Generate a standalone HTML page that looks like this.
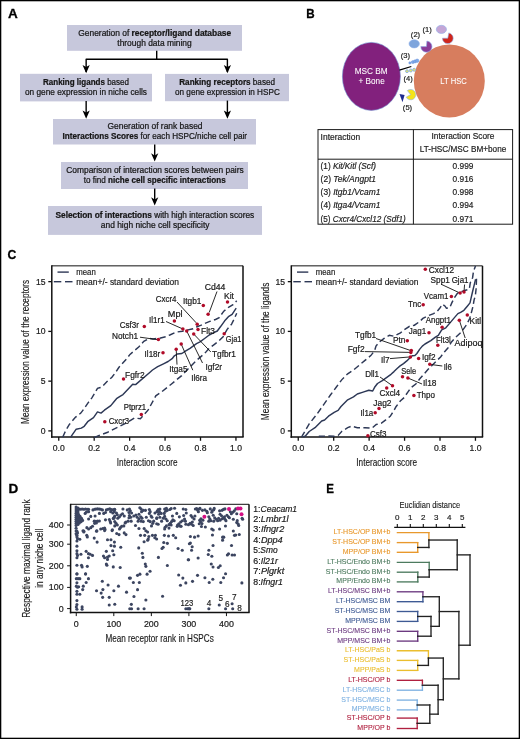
<!DOCTYPE html>
<html><head><meta charset="utf-8"><title>Figure</title>
<style>
html,body{margin:0;padding:0;background:#fff;}
body{width:520px;height:739px;overflow:hidden;}
svg{display:block;will-change:transform;font-family:"Liberation Sans", sans-serif;}
</style></head>
<body>
<svg width="520" height="739" viewBox="0 0 520 739">
<rect x="0" y="0" width="520" height="739" fill="#fff"/>
<text x="8.00" y="18.30" font-size="13.5" font-weight="bold" fill="#000" stroke="#000" stroke-width="0.3">A</text>
<text x="306.20" y="18.30" font-size="13.5" font-weight="bold" fill="#000" textLength="8.40" lengthAdjust="spacingAndGlyphs" stroke="#000" stroke-width="0.3">B</text>
<text x="7.50" y="259.40" font-size="13.5" font-weight="bold" fill="#000" textLength="8.80" lengthAdjust="spacingAndGlyphs" stroke="#000" stroke-width="0.3">C</text>
<text x="8.40" y="492.80" font-size="13.5" font-weight="bold" fill="#000" stroke="#000" stroke-width="0.3">D</text>
<text x="326.20" y="492.80" font-size="13.5" font-weight="bold" fill="#000" textLength="7.70" lengthAdjust="spacingAndGlyphs" stroke="#000" stroke-width="0.3">E</text>
<rect x="67.00" y="25.00" width="175.00" height="25.80" fill="#c7c8dc"/>
<rect x="20.00" y="73.80" width="132.00" height="27.60" fill="#c7c8dc"/>
<rect x="165.00" y="73.90" width="124.00" height="27.30" fill="#c7c8dc"/>
<rect x="53.00" y="119.00" width="203.00" height="25.50" fill="#c7c8dc"/>
<rect x="61.00" y="162.00" width="187.00" height="27.00" fill="#c7c8dc"/>
<rect x="48.00" y="206.00" width="214.00" height="28.90" fill="#c7c8dc"/>
<text x="78.25" y="36.30" font-size="8.4" fill="#161616" textLength="153.00" lengthAdjust="spacingAndGlyphs" stroke="#161616" stroke-width="0.22">Generation of <tspan font-weight="bold">receptor/ligand database</tspan></text>
<text x="117.30" y="45.50" font-size="8.4" fill="#161616" textLength="74.40" lengthAdjust="spacingAndGlyphs" stroke="#161616" stroke-width="0.22">through data mining</text>
<text x="43.00" y="85.10" font-size="8.4" fill="#161616" textLength="86.00" lengthAdjust="spacingAndGlyphs" stroke="#161616" stroke-width="0.22"><tspan font-weight="bold">Ranking ligands</tspan> based</text>
<text x="25.00" y="94.70" font-size="8.4" fill="#161616" textLength="122.00" lengthAdjust="spacingAndGlyphs" stroke="#161616" stroke-width="0.22">on gene expression in niche cells</text>
<text x="179.25" y="85.10" font-size="8.4" fill="#161616" textLength="95.75" lengthAdjust="spacingAndGlyphs" stroke="#161616" stroke-width="0.22"><tspan font-weight="bold">Ranking receptors</tspan> based</text>
<text x="175.00" y="94.70" font-size="8.4" fill="#161616" textLength="104.80" lengthAdjust="spacingAndGlyphs" stroke="#161616" stroke-width="0.22">on gene expression in HSPC</text>
<text x="107.50" y="129.30" font-size="8.4" fill="#161616" textLength="95.00" lengthAdjust="spacingAndGlyphs" stroke="#161616" stroke-width="0.22">Generation of rank based</text>
<text x="62.50" y="139.10" font-size="8.4" fill="#161616" textLength="184.50" lengthAdjust="spacingAndGlyphs" stroke="#161616" stroke-width="0.22"><tspan font-weight="bold">Interactions Scores</tspan> for each HSPC/niche cell pair</text>
<text x="66.25" y="173.10" font-size="8.4" fill="#161616" textLength="177.50" lengthAdjust="spacingAndGlyphs" stroke="#161616" stroke-width="0.22">Comparison of interaction scores between pairs</text>
<text x="83.75" y="182.90" font-size="8.4" fill="#161616" textLength="142.00" lengthAdjust="spacingAndGlyphs" stroke="#161616" stroke-width="0.22">to find <tspan font-weight="bold">niche cell specific interactions</tspan></text>
<text x="55.50" y="218.10" font-size="8.4" fill="#161616" textLength="198.75" lengthAdjust="spacingAndGlyphs" stroke="#161616" stroke-width="0.22"><tspan font-weight="bold">Selection of interactions</tspan> with high interaction scores</text>
<text x="100.75" y="227.90" font-size="8.4" fill="#161616" textLength="108.75" lengthAdjust="spacingAndGlyphs" stroke="#161616" stroke-width="0.22">and high niche cell specificity</text>
<polyline points="86.15,72.00 86.15,59.20 227.40,59.20 227.40,72.00" fill="none" stroke="#000" stroke-width="1.4" stroke-linejoin="round"/>
<line x1="156.70" y1="50.80" x2="156.70" y2="59.20" stroke="#000" stroke-width="1.4"/>
<polygon points="82.55,64.90 86.15,73.20 89.75,64.90 86.15,67.00" fill="#000"/>
<polygon points="223.80,64.90 227.40,73.20 231.00,64.90 227.40,67.00" fill="#000"/>
<line x1="86.15" y1="101.00" x2="86.15" y2="115.80" stroke="#000" stroke-width="1.4"/>
<polygon points="82.55,110.50 86.15,118.80 89.75,110.50 86.15,112.60" fill="#000"/>
<line x1="227.40" y1="100.60" x2="227.40" y2="115.80" stroke="#000" stroke-width="1.4"/>
<polygon points="223.80,110.50 227.40,118.80 231.00,110.50 227.40,112.60" fill="#000"/>
<line x1="154.70" y1="144.50" x2="154.70" y2="158.60" stroke="#000" stroke-width="1.4"/>
<polygon points="151.10,153.30 154.70,161.60 158.30,153.30 154.70,155.40" fill="#000"/>
<line x1="154.70" y1="188.50" x2="154.70" y2="202.60" stroke="#000" stroke-width="1.4"/>
<polygon points="151.10,197.30 154.70,205.60 158.30,197.30 154.70,199.40" fill="#000"/>
<ellipse cx="371.40" cy="76.40" rx="29.00" ry="34.00" fill="#82217d" stroke="#6f8fd0" stroke-width="0.6"/>
<ellipse cx="449.30" cy="81.00" rx="35.50" ry="36.50" fill="#d77d5e"/>
<text x="371.20" y="74.20" font-size="8.2" text-anchor="middle" fill="#fff" textLength="33.00" lengthAdjust="spacingAndGlyphs" stroke="#fff" stroke-width="0.06">MSC BM</text>
<text x="371.60" y="83.80" font-size="8.2" text-anchor="middle" fill="#fff" textLength="26.30" lengthAdjust="spacingAndGlyphs" stroke="#fff" stroke-width="0.06">+ Bone</text>
<text x="453.60" y="83.80" font-size="8.4" text-anchor="middle" fill="#fff" textLength="26.50" lengthAdjust="spacingAndGlyphs" stroke="#fff" stroke-width="0.06">LT HSC</text>
<ellipse cx="441.40" cy="29.40" rx="5.10" ry="4.10" fill="#c4a6d6" stroke="#8fb0ea" stroke-width="0.6"/>
<path d="M447.80,38.20 L448.74,32.88 A5.40,5.40 0 1 1 442.40,38.20 Z" fill="#d0261c" stroke="#8fb0ea" stroke-width="0.6"/>
<path d="M426.40,46.60 L426.89,41.02 A5.60,5.60 0 1 1 420.80,46.60 Z" fill="#8b3c98" stroke="#8fb0ea" stroke-width="0.6"/>
<path d="M410.60,94.60 L407.26,90.62 A5.20,5.20 0 1 1 406.10,97.20 Z" fill="#f4e41a" stroke="#8fb0ea" stroke-width="0.6"/>
<ellipse cx="414.20" cy="43.80" rx="5.20" ry="4.10" fill="#7ea5dc" stroke="#8fb0ea" stroke-width="0.6"/>
<circle cx="409.90" cy="62.90" r="1.15" fill="#7ea8e6" stroke="#6690dc" stroke-width="0.5"/>
<circle cx="412.80" cy="62.10" r="1.50" fill="#7ea8e6" stroke="#6690dc" stroke-width="0.5"/>
<circle cx="415.00" cy="61.40" r="1.55" fill="#7ea8e6" stroke="#6690dc" stroke-width="0.5"/>
<circle cx="417.20" cy="60.70" r="1.70" fill="#7ea8e6" stroke="#6690dc" stroke-width="0.5"/>
<circle cx="407.00" cy="71.20" r="1.45" fill="#dfe26e" stroke="#82aae8" stroke-width="0.8"/>
<circle cx="410.80" cy="70.50" r="1.50" fill="#dfe26e" stroke="#82aae8" stroke-width="0.8"/>
<circle cx="414.20" cy="69.80" r="1.50" fill="#dfe26e" stroke="#82aae8" stroke-width="0.8"/>
<line x1="399.40" y1="70.20" x2="411.30" y2="66.50" stroke="#000" stroke-width="1.3"/>
<polygon points="399.50,94.00 404.60,95.10 402.50,102.30" fill="#1d2b8e"/>
<text x="427.10" y="32.00" font-size="7.6" text-anchor="middle" fill="#222" stroke="#222" stroke-width="0.18">(1)</text>
<text x="415.50" y="37.30" font-size="7.6" text-anchor="middle" fill="#222" stroke="#222" stroke-width="0.18">(2)</text>
<text x="405.40" y="58.10" font-size="7.6" text-anchor="middle" fill="#222" stroke="#222" stroke-width="0.18">(3)</text>
<text x="408.20" y="80.90" font-size="7.6" text-anchor="middle" fill="#222" stroke="#222" stroke-width="0.18">(4)</text>
<text x="407.50" y="109.60" font-size="7.6" text-anchor="middle" fill="#222" stroke="#222" stroke-width="0.18">(5)</text>
<rect x="318.00" y="129.60" width="194.60" height="94.60" fill="none" stroke="#1a1a1a" stroke-width="1.0"/>
<line x1="413.40" y1="129.60" x2="413.40" y2="224.20" stroke="#1a1a1a" stroke-width="1.0"/>
<line x1="318.00" y1="159.20" x2="512.60" y2="159.20" stroke="#1a1a1a" stroke-width="1.0"/>
<text x="320.60" y="140.00" font-size="8.2" fill="#222" textLength="39.50" lengthAdjust="spacingAndGlyphs" stroke="#222" stroke-width="0.18">Interaction</text>
<text x="463.00" y="139.40" font-size="8.2" text-anchor="middle" fill="#222" textLength="63.00" lengthAdjust="spacingAndGlyphs" stroke="#222" stroke-width="0.18">Interaction Score</text>
<text x="463.00" y="152.30" font-size="8.2" text-anchor="middle" fill="#222" textLength="86.60" lengthAdjust="spacingAndGlyphs" stroke="#222" stroke-width="0.18">LT-HSC/MSC BM+bone</text>
<text x="320.60" y="169.40" font-size="8.2" fill="#222" textLength="55.40" lengthAdjust="spacingAndGlyphs" stroke="#222" stroke-width="0.18">(1) <tspan font-style="italic">Kit/Kitl (Scf)</tspan></text>
<text x="463.00" y="169.40" font-size="8.2" text-anchor="middle" fill="#222" textLength="20.80" lengthAdjust="spacingAndGlyphs" stroke="#222" stroke-width="0.18">0.999</text>
<text x="320.60" y="182.43" font-size="8.2" fill="#222" textLength="55.40" lengthAdjust="spacingAndGlyphs" stroke="#222" stroke-width="0.18">(2) <tspan font-style="italic">Tek/Angpt1</tspan></text>
<text x="463.00" y="182.43" font-size="8.2" text-anchor="middle" fill="#222" textLength="20.80" lengthAdjust="spacingAndGlyphs" stroke="#222" stroke-width="0.18">0.916</text>
<text x="320.60" y="195.46" font-size="8.2" fill="#222" textLength="59.80" lengthAdjust="spacingAndGlyphs" stroke="#222" stroke-width="0.18">(3) <tspan font-style="italic">Itgb1/Vcam1</tspan></text>
<text x="463.00" y="195.46" font-size="8.2" text-anchor="middle" fill="#222" textLength="20.80" lengthAdjust="spacingAndGlyphs" stroke="#222" stroke-width="0.18">0.998</text>
<text x="320.60" y="208.49" font-size="8.2" fill="#222" textLength="59.80" lengthAdjust="spacingAndGlyphs" stroke="#222" stroke-width="0.18">(4) <tspan font-style="italic">Itga4/Vcam1</tspan></text>
<text x="463.00" y="208.49" font-size="8.2" text-anchor="middle" fill="#222" textLength="20.80" lengthAdjust="spacingAndGlyphs" stroke="#222" stroke-width="0.18">0.994</text>
<text x="320.60" y="221.52" font-size="8.2" fill="#222" textLength="85.10" lengthAdjust="spacingAndGlyphs" stroke="#222" stroke-width="0.18">(5) <tspan font-style="italic">Cxcr4/Cxcl12 (Sdf1)</tspan></text>
<text x="463.00" y="221.52" font-size="8.2" text-anchor="middle" fill="#222" textLength="20.80" lengthAdjust="spacingAndGlyphs" stroke="#222" stroke-width="0.18">0.971</text>
<line x1="51.80" y1="265.85" x2="243.00" y2="265.85" stroke="#111" stroke-width="1.0"/>
<line x1="243.00" y1="265.85" x2="243.00" y2="437.00" stroke="#111" stroke-width="1.5"/>
<line x1="51.80" y1="265.35" x2="51.80" y2="437.75" stroke="#111" stroke-width="1.5"/>
<line x1="51.05" y1="437.00" x2="243.65" y2="437.00" stroke="#111" stroke-width="1.5"/>
<line x1="48.30" y1="430.90" x2="51.80" y2="430.90" stroke="#111" stroke-width="1.3"/>
<text x="45.60" y="433.95" font-size="8.6" text-anchor="end" fill="#1a1a1a" stroke="#1a1a1a" stroke-width="0.2">0</text>
<line x1="48.30" y1="381.15" x2="51.80" y2="381.15" stroke="#111" stroke-width="1.3"/>
<text x="45.60" y="384.20" font-size="8.6" text-anchor="end" fill="#1a1a1a" stroke="#1a1a1a" stroke-width="0.2">5</text>
<line x1="48.30" y1="331.40" x2="51.80" y2="331.40" stroke="#111" stroke-width="1.3"/>
<text x="45.60" y="334.45" font-size="8.6" text-anchor="end" fill="#1a1a1a" stroke="#1a1a1a" stroke-width="0.2">10</text>
<line x1="48.30" y1="281.65" x2="51.80" y2="281.65" stroke="#111" stroke-width="1.3"/>
<text x="45.60" y="284.70" font-size="8.6" text-anchor="end" fill="#1a1a1a" stroke="#1a1a1a" stroke-width="0.2">15</text>
<line x1="58.75" y1="437.00" x2="58.75" y2="440.80" stroke="#111" stroke-width="1.3"/>
<text x="58.75" y="451.20" font-size="8.6" text-anchor="middle" fill="#1a1a1a" stroke="#1a1a1a" stroke-width="0.2">0.0</text>
<line x1="94.19" y1="437.00" x2="94.19" y2="440.80" stroke="#111" stroke-width="1.3"/>
<text x="94.19" y="451.20" font-size="8.6" text-anchor="middle" fill="#1a1a1a" stroke="#1a1a1a" stroke-width="0.2">0.2</text>
<line x1="129.63" y1="437.00" x2="129.63" y2="440.80" stroke="#111" stroke-width="1.3"/>
<text x="129.63" y="451.20" font-size="8.6" text-anchor="middle" fill="#1a1a1a" stroke="#1a1a1a" stroke-width="0.2">0.4</text>
<line x1="165.07" y1="437.00" x2="165.07" y2="440.80" stroke="#111" stroke-width="1.3"/>
<text x="165.07" y="451.20" font-size="8.6" text-anchor="middle" fill="#1a1a1a" stroke="#1a1a1a" stroke-width="0.2">0.6</text>
<line x1="200.51" y1="437.00" x2="200.51" y2="440.80" stroke="#111" stroke-width="1.3"/>
<text x="200.51" y="451.20" font-size="8.6" text-anchor="middle" fill="#1a1a1a" stroke="#1a1a1a" stroke-width="0.2">0.8</text>
<line x1="235.95" y1="437.00" x2="235.95" y2="440.80" stroke="#111" stroke-width="1.3"/>
<text x="235.95" y="451.20" font-size="8.6" text-anchor="middle" fill="#1a1a1a" stroke="#1a1a1a" stroke-width="0.2">1.0</text>
<text x="147.20" y="466.00" font-size="10.7" text-anchor="middle" fill="#1a1a1a" textLength="60.75" lengthAdjust="spacingAndGlyphs" stroke="#1a1a1a" stroke-width="0.15">Interaction score</text>
<text transform="translate(29.20,351.85) rotate(-90)" x="0" y="0" font-size="11.2" text-anchor="middle" fill="#1a1a1a" stroke="#1a1a1a" stroke-width="0.15" textLength="144.10" lengthAdjust="spacingAndGlyphs">Mean expression value of the receptors</text>
<line x1="57.50" y1="272.10" x2="68.80" y2="272.10" stroke="#2d3856" stroke-width="1.4"/>
<line x1="53.80" y1="281.70" x2="61.30" y2="281.70" stroke="#2d3856" stroke-width="1.4"/>
<line x1="65.00" y1="281.70" x2="72.50" y2="281.70" stroke="#2d3856" stroke-width="1.4"/>
<text x="76.30" y="274.90" font-size="8.2" fill="#222" textLength="19.50" lengthAdjust="spacingAndGlyphs" stroke="#222" stroke-width="0.18">mean</text>
<text x="76.30" y="284.60" font-size="8.2" fill="#222" textLength="102.70" lengthAdjust="spacingAndGlyphs" stroke="#222" stroke-width="0.18">mean+/- standard deviation</text>
<line x1="291.30" y1="265.85" x2="482.50" y2="265.85" stroke="#111" stroke-width="1.0"/>
<line x1="482.50" y1="265.85" x2="482.50" y2="437.00" stroke="#111" stroke-width="1.5"/>
<line x1="291.30" y1="265.35" x2="291.30" y2="437.75" stroke="#111" stroke-width="1.5"/>
<line x1="290.55" y1="437.00" x2="483.15" y2="437.00" stroke="#111" stroke-width="1.5"/>
<line x1="287.80" y1="430.90" x2="291.30" y2="430.90" stroke="#111" stroke-width="1.3"/>
<text x="285.10" y="433.95" font-size="8.6" text-anchor="end" fill="#1a1a1a" stroke="#1a1a1a" stroke-width="0.2">0</text>
<line x1="287.80" y1="381.15" x2="291.30" y2="381.15" stroke="#111" stroke-width="1.3"/>
<text x="285.10" y="384.20" font-size="8.6" text-anchor="end" fill="#1a1a1a" stroke="#1a1a1a" stroke-width="0.2">5</text>
<line x1="287.80" y1="331.40" x2="291.30" y2="331.40" stroke="#111" stroke-width="1.3"/>
<text x="285.10" y="334.45" font-size="8.6" text-anchor="end" fill="#1a1a1a" stroke="#1a1a1a" stroke-width="0.2">10</text>
<line x1="287.80" y1="281.65" x2="291.30" y2="281.65" stroke="#111" stroke-width="1.3"/>
<text x="285.10" y="284.70" font-size="8.6" text-anchor="end" fill="#1a1a1a" stroke="#1a1a1a" stroke-width="0.2">15</text>
<line x1="298.25" y1="437.00" x2="298.25" y2="440.80" stroke="#111" stroke-width="1.3"/>
<text x="298.25" y="451.20" font-size="8.6" text-anchor="middle" fill="#1a1a1a" stroke="#1a1a1a" stroke-width="0.2">0.0</text>
<line x1="333.69" y1="437.00" x2="333.69" y2="440.80" stroke="#111" stroke-width="1.3"/>
<text x="333.69" y="451.20" font-size="8.6" text-anchor="middle" fill="#1a1a1a" stroke="#1a1a1a" stroke-width="0.2">0.2</text>
<line x1="369.13" y1="437.00" x2="369.13" y2="440.80" stroke="#111" stroke-width="1.3"/>
<text x="369.13" y="451.20" font-size="8.6" text-anchor="middle" fill="#1a1a1a" stroke="#1a1a1a" stroke-width="0.2">0.4</text>
<line x1="404.57" y1="437.00" x2="404.57" y2="440.80" stroke="#111" stroke-width="1.3"/>
<text x="404.57" y="451.20" font-size="8.6" text-anchor="middle" fill="#1a1a1a" stroke="#1a1a1a" stroke-width="0.2">0.6</text>
<line x1="440.01" y1="437.00" x2="440.01" y2="440.80" stroke="#111" stroke-width="1.3"/>
<text x="440.01" y="451.20" font-size="8.6" text-anchor="middle" fill="#1a1a1a" stroke="#1a1a1a" stroke-width="0.2">0.8</text>
<line x1="475.45" y1="437.00" x2="475.45" y2="440.80" stroke="#111" stroke-width="1.3"/>
<text x="475.45" y="451.20" font-size="8.6" text-anchor="middle" fill="#1a1a1a" stroke="#1a1a1a" stroke-width="0.2">1.0</text>
<text x="386.70" y="466.00" font-size="10.7" text-anchor="middle" fill="#1a1a1a" textLength="60.75" lengthAdjust="spacingAndGlyphs" stroke="#1a1a1a" stroke-width="0.15">Interaction score</text>
<text transform="translate(268.90,351.40) rotate(-90)" x="0" y="0" font-size="11.2" text-anchor="middle" fill="#1a1a1a" stroke="#1a1a1a" stroke-width="0.15" textLength="137.60" lengthAdjust="spacingAndGlyphs">Mean expression value of the ligands</text>
<line x1="297.00" y1="272.10" x2="308.30" y2="272.10" stroke="#2d3856" stroke-width="1.4"/>
<line x1="293.30" y1="281.70" x2="300.80" y2="281.70" stroke="#2d3856" stroke-width="1.4"/>
<line x1="304.50" y1="281.70" x2="312.00" y2="281.70" stroke="#2d3856" stroke-width="1.4"/>
<text x="315.80" y="274.90" font-size="8.2" fill="#222" textLength="19.50" lengthAdjust="spacingAndGlyphs" stroke="#222" stroke-width="0.18">mean</text>
<text x="315.80" y="284.60" font-size="8.2" fill="#222" textLength="102.70" lengthAdjust="spacingAndGlyphs" stroke="#222" stroke-width="0.18">mean+/- standard deviation</text>
<polyline points="70.60,437.20 71.00,436.70 76.20,429.20 81.30,428.10 84.20,426.30 87.70,421.70 93.50,417.70 97.50,411.90 101.00,413.10 104.40,410.20 110.80,405.60 114.20,401.50 116.50,398.70 120.00,396.30 123.00,394.60 132.70,384.20 135.60,384.60 150.00,372.20 152.50,370.00 157.70,366.70 163.50,363.80 168.10,361.50 172.10,358.70 174.40,355.80 177.30,354.00 181.90,353.50 185.40,351.20 190.00,348.30 196.50,343.70 200.00,341.90 204.60,338.50 209.20,335.00 213.80,332.70 217.30,331.00 220.80,326.30 224.70,320.80 228.40,316.70 232.10,314.40 233.90,311.60 236.20,308.20" fill="none" stroke="#2d3856" stroke-width="1.45" stroke-linejoin="round"/>
<polyline points="62.60,437.20 62.90,436.70 65.80,430.40 69.20,424.60 72.10,421.20 75.60,417.10 80.80,413.10 84.20,408.50 87.70,403.30 91.70,398.10 95.20,392.30 97.50,388.30 100.40,387.50 102.70,386.00 107.30,381.30 111.90,377.30 115.40,372.70 118.80,367.50 126.90,358.50 130.00,354.40 134.60,350.50 138.70,347.10 143.80,341.30 149.00,338.40 153.00,338.90 159.40,338.30 165.80,336.70 169.80,335.00 176.20,332.10 182.50,331.20 193.10,328.70 196.50,327.00 201.20,325.20 204.60,323.50 210.40,321.20 215.50,319.50 219.20,317.60 223.80,311.20 228.90,307.00 233.00,304.70 236.70,300.80" fill="none" stroke="#2d3856" stroke-width="1.45" stroke-dasharray="6.2 3.4" stroke-linecap="butt"/>
<polyline points="94.20,437.60 98.00,435.80 107.70,432.30 119.20,426.50 126.90,422.70 134.60,417.90 140.40,418.80 148.00,410.20 155.80,395.80 161.50,392.00 171.20,384.20 181.70,375.60 192.50,364.40 196.50,360.40 204.60,353.50 209.20,348.30 213.80,344.80 218.50,341.30 223.10,336.70 227.00,329.60 231.60,324.10 234.40,318.50 236.70,313.30" fill="none" stroke="#2d3856" stroke-width="1.45" stroke-dasharray="6.2 3.4" stroke-linecap="butt"/>
<polyline points="303.20,437.20 305.40,436.00 309.20,431.50 315.00,427.70 321.70,421.00 324.60,420.00 328.50,416.20 334.20,412.30 338.10,410.40 341.00,406.50 347.70,399.80 353.50,396.90 357.30,394.00 363.10,392.10 368.80,390.20 372.70,391.00 374.60,387.30 377.50,383.50 382.30,380.60 391.00,374.30 394.00,371.60 397.40,368.30 400.10,365.90 403.50,363.60 406.80,360.90 409.50,358.20 412.20,355.80 414.90,355.50 416.90,353.50 419.60,349.40 422.30,346.10 425.00,344.00 430.80,340.60 435.40,337.10 438.30,335.40 441.70,329.80 445.80,327.80 449.80,323.10 453.80,318.40 457.90,313.60 460.60,312.30 463.90,310.30 467.30,306.20 470.00,302.90 470.90,298.80 472.60,291.50 474.40,284.10 475.60,279.30" fill="none" stroke="#2d3856" stroke-width="1.45" stroke-linejoin="round"/>
<polyline points="301.60,437.20 302.50,435.40 309.20,423.80 316.90,414.20 323.70,404.60 330.40,395.00 336.20,387.30 341.90,379.60 347.70,373.80 353.50,370.00 359.20,365.20 365.00,360.40 370.80,355.60 374.60,350.80 376.00,346.00 379.80,341.70 384.10,338.40 389.40,335.20 393.80,336.20 400.50,332.90 404.30,329.70 409.60,326.30 414.40,325.20 419.70,321.50 422.90,318.40 426.90,316.30 433.60,313.60 437.00,311.60 439.70,308.30 442.40,304.20 445.10,306.20 446.40,308.30 449.80,307.60 451.80,302.90 454.50,297.50 457.20,293.50 459.50,292.20 464.70,290.50 469.30,289.20 470.30,282.70 472.60,277.70 473.50,271.20 475.50,266.00" fill="none" stroke="#2d3856" stroke-width="1.45" stroke-dasharray="6.2 3.4" stroke-linecap="butt"/>
<polyline points="318.80,436.30 328.50,436.00 334.20,436.30 338.10,435.40 341.90,431.20 347.70,427.70 351.50,426.20 357.30,427.70 365.00,427.70 371.90,428.20 376.25,424.50 381.50,423.10 385.40,420.20 390.20,416.30 393.60,411.10 396.00,406.70 400.30,401.00 404.10,397.60 408.00,391.80 411.20,387.50 415.80,384.00 419.80,378.80 423.80,374.20 427.90,369.60 431.90,365.60 436.00,361.50 440.60,356.90 444.60,351.70 448.10,347.70 451.50,341.90 455.60,337.30 461.30,332.10 466.60,324.60 469.80,318.20 471.60,311.70 473.00,306.20 474.10,299.80 475.30,296.10 476.20,288.00 476.50,278.50" fill="none" stroke="#2d3856" stroke-width="1.45" stroke-dasharray="6.2 3.4" stroke-linecap="butt"/>
<line x1="177.00" y1="302.00" x2="196.20" y2="322.80" stroke="#111" stroke-width="0.9"/>
<line x1="217.00" y1="291.50" x2="209.20" y2="312.50" stroke="#111" stroke-width="0.9"/>
<line x1="140.00" y1="337.20" x2="157.00" y2="339.60" stroke="#111" stroke-width="0.9"/>
<line x1="166.00" y1="321.50" x2="182.00" y2="328.60" stroke="#111" stroke-width="0.9"/>
<line x1="186.70" y1="331.00" x2="202.50" y2="363.00" stroke="#111" stroke-width="0.9"/>
<line x1="193.70" y1="334.00" x2="210.80" y2="352.00" stroke="#111" stroke-width="0.9"/>
<line x1="176.20" y1="349.40" x2="177.00" y2="364.60" stroke="#111" stroke-width="0.9"/>
<line x1="181.20" y1="344.10" x2="192.80" y2="370.20" stroke="#111" stroke-width="0.9"/>
<line x1="441.00" y1="284.20" x2="459.00" y2="292.60" stroke="#111" stroke-width="0.9"/>
<line x1="464.60" y1="284.50" x2="464.00" y2="291.50" stroke="#111" stroke-width="0.9"/>
<line x1="459.30" y1="320.20" x2="465.20" y2="338.00" stroke="#111" stroke-width="0.9"/>
<line x1="376.00" y1="338.50" x2="410.80" y2="350.60" stroke="#111" stroke-width="0.9"/>
<line x1="365.00" y1="351.60" x2="410.80" y2="352.40" stroke="#111" stroke-width="0.9"/>
<line x1="390.00" y1="358.60" x2="410.40" y2="356.90" stroke="#111" stroke-width="0.9"/>
<line x1="380.00" y1="377.00" x2="392.50" y2="385.80" stroke="#111" stroke-width="0.9"/>
<line x1="407.90" y1="378.00" x2="422.00" y2="384.00" stroke="#111" stroke-width="0.9"/>
<line x1="430.00" y1="364.40" x2="442.30" y2="366.00" stroke="#111" stroke-width="0.9"/>
<circle cx="197.20" cy="324.20" r="1.75" fill="#b00a28"/>
<circle cx="203.30" cy="305.60" r="1.75" fill="#b00a28"/>
<circle cx="208.10" cy="314.30" r="1.75" fill="#b00a28"/>
<circle cx="227.50" cy="302.00" r="1.75" fill="#b00a28"/>
<circle cx="174.40" cy="321.00" r="1.75" fill="#b00a28"/>
<circle cx="182.90" cy="329.10" r="1.75" fill="#b00a28"/>
<circle cx="144.30" cy="326.50" r="1.75" fill="#b00a28"/>
<circle cx="158.40" cy="339.50" r="1.75" fill="#b00a28"/>
<circle cx="198.00" cy="329.60" r="1.75" fill="#b00a28"/>
<circle cx="224.20" cy="333.70" r="1.75" fill="#b00a28"/>
<circle cx="163.00" cy="352.80" r="1.75" fill="#b00a28"/>
<circle cx="193.70" cy="333.90" r="1.75" fill="#b00a28"/>
<circle cx="176.20" cy="349.30" r="1.75" fill="#b00a28"/>
<circle cx="186.70" cy="331.00" r="1.75" fill="#b00a28"/>
<circle cx="181.20" cy="344.10" r="1.75" fill="#b00a28"/>
<circle cx="123.50" cy="379.00" r="1.75" fill="#b00a28"/>
<circle cx="141.30" cy="414.60" r="1.75" fill="#b00a28"/>
<circle cx="104.80" cy="421.70" r="1.75" fill="#b00a28"/>
<circle cx="425.30" cy="269.20" r="1.75" fill="#b00a28"/>
<circle cx="460.10" cy="293.00" r="1.75" fill="#b00a28"/>
<circle cx="464.00" cy="292.10" r="1.75" fill="#b00a28"/>
<circle cx="451.40" cy="296.50" r="1.75" fill="#b00a28"/>
<circle cx="423.20" cy="304.80" r="1.75" fill="#b00a28"/>
<circle cx="442.10" cy="327.30" r="1.75" fill="#b00a28"/>
<circle cx="467.30" cy="315.00" r="1.75" fill="#b00a28"/>
<circle cx="459.30" cy="320.20" r="1.75" fill="#b00a28"/>
<circle cx="429.00" cy="332.70" r="1.75" fill="#b00a28"/>
<circle cx="407.30" cy="340.80" r="1.75" fill="#b00a28"/>
<circle cx="411.30" cy="350.60" r="1.75" fill="#b00a28"/>
<circle cx="410.80" cy="352.60" r="1.75" fill="#b00a28"/>
<circle cx="410.40" cy="357.00" r="1.75" fill="#b00a28"/>
<circle cx="418.60" cy="358.50" r="1.75" fill="#b00a28"/>
<circle cx="437.80" cy="345.30" r="1.75" fill="#b00a28"/>
<circle cx="429.80" cy="364.20" r="1.75" fill="#b00a28"/>
<circle cx="402.50" cy="376.70" r="1.75" fill="#b00a28"/>
<circle cx="407.90" cy="378.00" r="1.75" fill="#b00a28"/>
<circle cx="392.50" cy="385.80" r="1.75" fill="#b00a28"/>
<circle cx="386.70" cy="388.10" r="1.75" fill="#b00a28"/>
<circle cx="413.90" cy="395.40" r="1.75" fill="#b00a28"/>
<circle cx="379.00" cy="408.50" r="1.75" fill="#b00a28"/>
<circle cx="375.20" cy="412.70" r="1.75" fill="#b00a28"/>
<circle cx="367.90" cy="435.80" r="1.75" fill="#b00a28"/>
<text x="155.80" y="302.22" font-size="8.4" fill="#1a1a1a" textLength="20.70" lengthAdjust="spacingAndGlyphs" stroke="#1a1a1a" stroke-width="0.2">Cxcr4</text>
<text x="183.00" y="304.02" font-size="8.4" fill="#1a1a1a" textLength="18.50" lengthAdjust="spacingAndGlyphs" stroke="#1a1a1a" stroke-width="0.2">Itgb1</text>
<text x="204.70" y="289.92" font-size="8.4" fill="#1a1a1a" textLength="20.70" lengthAdjust="spacingAndGlyphs" stroke="#1a1a1a" stroke-width="0.2">Cd44</text>
<text x="224.00" y="299.02" font-size="8.4" fill="#1a1a1a" textLength="10.00" lengthAdjust="spacingAndGlyphs" stroke="#1a1a1a" stroke-width="0.2">Kit</text>
<text x="167.80" y="317.32" font-size="8.4" fill="#1a1a1a" textLength="14.70" lengthAdjust="spacingAndGlyphs" stroke="#1a1a1a" stroke-width="0.2">Mpl</text>
<text x="149.00" y="322.72" font-size="8.4" fill="#1a1a1a" textLength="15.60" lengthAdjust="spacingAndGlyphs" stroke="#1a1a1a" stroke-width="0.2">Il1r1</text>
<text x="119.70" y="328.02" font-size="8.4" fill="#1a1a1a" textLength="19.20" lengthAdjust="spacingAndGlyphs" stroke="#1a1a1a" stroke-width="0.2">Csf3r</text>
<text x="112.00" y="339.02" font-size="8.4" fill="#1a1a1a" textLength="26.20" lengthAdjust="spacingAndGlyphs" stroke="#1a1a1a" stroke-width="0.2">Notch1</text>
<text x="201.00" y="333.52" font-size="8.4" fill="#1a1a1a" textLength="14.00" lengthAdjust="spacingAndGlyphs" stroke="#1a1a1a" stroke-width="0.2">Flt3</text>
<text x="225.80" y="341.82" font-size="8.4" fill="#1a1a1a" textLength="15.50" lengthAdjust="spacingAndGlyphs" stroke="#1a1a1a" stroke-width="0.2">Gja1</text>
<text x="144.60" y="356.82" font-size="8.4" fill="#1a1a1a" textLength="15.70" lengthAdjust="spacingAndGlyphs" stroke="#1a1a1a" stroke-width="0.2">Il18r</text>
<text x="212.00" y="357.42" font-size="8.4" fill="#1a1a1a" textLength="24.00" lengthAdjust="spacingAndGlyphs" stroke="#1a1a1a" stroke-width="0.2">Tgfbr1</text>
<text x="169.20" y="371.82" font-size="8.4" fill="#1a1a1a" textLength="18.30" lengthAdjust="spacingAndGlyphs" stroke="#1a1a1a" stroke-width="0.2">Itga5</text>
<text x="205.40" y="370.02" font-size="8.4" fill="#1a1a1a" textLength="16.70" lengthAdjust="spacingAndGlyphs" stroke="#1a1a1a" stroke-width="0.2">Igf2r</text>
<text x="191.30" y="380.52" font-size="8.4" fill="#1a1a1a" textLength="15.80" lengthAdjust="spacingAndGlyphs" stroke="#1a1a1a" stroke-width="0.2">Il6ra</text>
<text x="125.00" y="378.22" font-size="8.4" fill="#1a1a1a" textLength="19.60" lengthAdjust="spacingAndGlyphs" stroke="#1a1a1a" stroke-width="0.2">Fgfr2</text>
<text x="123.70" y="410.32" font-size="8.4" fill="#1a1a1a" textLength="22.50" lengthAdjust="spacingAndGlyphs" stroke="#1a1a1a" stroke-width="0.2">Ptprz1</text>
<text x="108.70" y="424.32" font-size="8.4" fill="#1a1a1a" textLength="20.50" lengthAdjust="spacingAndGlyphs" stroke="#1a1a1a" stroke-width="0.2">Cxcr3</text>
<text x="428.70" y="272.82" font-size="8.4" fill="#1a1a1a" textLength="25.50" lengthAdjust="spacingAndGlyphs" stroke="#1a1a1a" stroke-width="0.2">Cxcl12</text>
<text x="430.60" y="282.82" font-size="8.4" fill="#1a1a1a" textLength="19.20" lengthAdjust="spacingAndGlyphs" stroke="#1a1a1a" stroke-width="0.2">Spp1</text>
<text x="451.70" y="282.82" font-size="8.4" fill="#1a1a1a" textLength="16.80" lengthAdjust="spacingAndGlyphs" stroke="#1a1a1a" stroke-width="0.2">Gja1</text>
<text x="423.80" y="299.22" font-size="8.4" fill="#1a1a1a" textLength="24.70" lengthAdjust="spacingAndGlyphs" stroke="#1a1a1a" stroke-width="0.2">Vcam1</text>
<text x="407.90" y="306.82" font-size="8.4" fill="#1a1a1a" textLength="13.40" lengthAdjust="spacingAndGlyphs" stroke="#1a1a1a" stroke-width="0.2">Tnc</text>
<text x="425.80" y="322.82" font-size="8.4" fill="#1a1a1a" textLength="25.00" lengthAdjust="spacingAndGlyphs" stroke="#1a1a1a" stroke-width="0.2">Angpt1</text>
<text x="469.60" y="324.22" font-size="8.4" fill="#1a1a1a" textLength="11.60" lengthAdjust="spacingAndGlyphs" stroke="#1a1a1a" stroke-width="0.2">Kitl</text>
<text x="408.80" y="333.82" font-size="8.4" fill="#1a1a1a" textLength="17.40" lengthAdjust="spacingAndGlyphs" stroke="#1a1a1a" stroke-width="0.2">Jag1</text>
<text x="355.00" y="337.62" font-size="8.4" fill="#1a1a1a" textLength="21.20" lengthAdjust="spacingAndGlyphs" stroke="#1a1a1a" stroke-width="0.2">Tgfb1</text>
<text x="393.00" y="342.82" font-size="8.4" fill="#1a1a1a" textLength="12.40" lengthAdjust="spacingAndGlyphs" stroke="#1a1a1a" stroke-width="0.2">Ptn</text>
<text x="436.00" y="342.52" font-size="8.4" fill="#1a1a1a" textLength="14.80" lengthAdjust="spacingAndGlyphs" stroke="#1a1a1a" stroke-width="0.2">Flt3l</text>
<text x="454.60" y="345.92" font-size="8.4" fill="#1a1a1a" textLength="27.90" lengthAdjust="spacingAndGlyphs" stroke="#1a1a1a" stroke-width="0.2">Adipoq</text>
<text x="347.70" y="352.22" font-size="8.4" fill="#1a1a1a" textLength="16.90" lengthAdjust="spacingAndGlyphs" stroke="#1a1a1a" stroke-width="0.2">Fgf2</text>
<text x="421.90" y="359.92" font-size="8.4" fill="#1a1a1a" textLength="13.70" lengthAdjust="spacingAndGlyphs" stroke="#1a1a1a" stroke-width="0.2">Igf2</text>
<text x="381.00" y="362.82" font-size="8.4" fill="#1a1a1a" textLength="8.60" lengthAdjust="spacingAndGlyphs" stroke="#1a1a1a" stroke-width="0.2">Il7</text>
<text x="443.70" y="369.52" font-size="8.4" fill="#1a1a1a" textLength="8.20" lengthAdjust="spacingAndGlyphs" stroke="#1a1a1a" stroke-width="0.2">Il6</text>
<text x="401.20" y="373.82" font-size="8.4" fill="#1a1a1a" textLength="15.00" lengthAdjust="spacingAndGlyphs" stroke="#1a1a1a" stroke-width="0.2">Sele</text>
<text x="365.20" y="376.72" font-size="8.4" fill="#1a1a1a" textLength="13.80" lengthAdjust="spacingAndGlyphs" stroke="#1a1a1a" stroke-width="0.2">Dll1</text>
<text x="423.00" y="385.92" font-size="8.4" fill="#1a1a1a" textLength="13.50" lengthAdjust="spacingAndGlyphs" stroke="#1a1a1a" stroke-width="0.2">Il18</text>
<text x="379.60" y="395.92" font-size="8.4" fill="#1a1a1a" textLength="20.60" lengthAdjust="spacingAndGlyphs" stroke="#1a1a1a" stroke-width="0.2">Cxcl4</text>
<text x="416.70" y="397.82" font-size="8.4" fill="#1a1a1a" textLength="18.30" lengthAdjust="spacingAndGlyphs" stroke="#1a1a1a" stroke-width="0.2">Thpo</text>
<text x="373.30" y="405.72" font-size="8.4" fill="#1a1a1a" textLength="18.20" lengthAdjust="spacingAndGlyphs" stroke="#1a1a1a" stroke-width="0.2">Jag2</text>
<text x="360.40" y="416.32" font-size="8.4" fill="#1a1a1a" textLength="12.90" lengthAdjust="spacingAndGlyphs" stroke="#1a1a1a" stroke-width="0.2">Il1a</text>
<text x="370.00" y="436.82" font-size="8.4" fill="#1a1a1a" textLength="16.50" lengthAdjust="spacingAndGlyphs" stroke="#1a1a1a" stroke-width="0.2">Csf3</text>
<line x1="70.60" y1="504.30" x2="249.00" y2="504.30" stroke="#111" stroke-width="1.0"/>
<line x1="249.00" y1="504.30" x2="249.00" y2="612.60" stroke="#111" stroke-width="1.5"/>
<line x1="70.60" y1="503.80" x2="70.60" y2="613.35" stroke="#111" stroke-width="1.5"/>
<line x1="69.85" y1="612.60" x2="249.65" y2="612.60" stroke="#111" stroke-width="1.5"/>
<line x1="67.10" y1="608.60" x2="70.60" y2="608.60" stroke="#111" stroke-width="1.0"/>
<text x="63.60" y="611.60" font-size="8.9" text-anchor="end" fill="#1a1a1a" stroke="#1a1a1a" stroke-width="0.2">0</text>
<line x1="67.10" y1="587.40" x2="70.60" y2="587.40" stroke="#111" stroke-width="1.0"/>
<text x="63.60" y="590.40" font-size="8.9" text-anchor="end" fill="#1a1a1a" stroke="#1a1a1a" stroke-width="0.2">100</text>
<line x1="67.10" y1="565.80" x2="70.60" y2="565.80" stroke="#111" stroke-width="1.0"/>
<text x="63.60" y="568.80" font-size="8.9" text-anchor="end" fill="#1a1a1a" stroke="#1a1a1a" stroke-width="0.2">200</text>
<line x1="67.10" y1="544.20" x2="70.60" y2="544.20" stroke="#111" stroke-width="1.0"/>
<text x="63.60" y="547.20" font-size="8.9" text-anchor="end" fill="#1a1a1a" stroke="#1a1a1a" stroke-width="0.2">300</text>
<line x1="67.10" y1="525.00" x2="70.60" y2="525.00" stroke="#111" stroke-width="1.0"/>
<text x="63.60" y="528.00" font-size="8.9" text-anchor="end" fill="#1a1a1a" stroke="#1a1a1a" stroke-width="0.2">400</text>
<line x1="76.25" y1="612.60" x2="76.25" y2="616.10" stroke="#111" stroke-width="1.0"/>
<text x="76.25" y="627.00" font-size="8.9" text-anchor="middle" fill="#1a1a1a" stroke="#1a1a1a" stroke-width="0.2">0</text>
<line x1="113.80" y1="612.60" x2="113.80" y2="616.10" stroke="#111" stroke-width="1.0"/>
<text x="113.80" y="627.00" font-size="8.9" text-anchor="middle" fill="#1a1a1a" stroke="#1a1a1a" stroke-width="0.2">100</text>
<line x1="151.35" y1="612.60" x2="151.35" y2="616.10" stroke="#111" stroke-width="1.0"/>
<text x="151.35" y="627.00" font-size="8.9" text-anchor="middle" fill="#1a1a1a" stroke="#1a1a1a" stroke-width="0.2">200</text>
<line x1="188.90" y1="612.60" x2="188.90" y2="616.10" stroke="#111" stroke-width="1.0"/>
<text x="188.90" y="627.00" font-size="8.9" text-anchor="middle" fill="#1a1a1a" stroke="#1a1a1a" stroke-width="0.2">300</text>
<line x1="226.45" y1="612.60" x2="226.45" y2="616.10" stroke="#111" stroke-width="1.0"/>
<text x="226.45" y="627.00" font-size="8.9" text-anchor="middle" fill="#1a1a1a" stroke="#1a1a1a" stroke-width="0.2">400</text>
<text x="159.60" y="641.60" font-size="10.6" text-anchor="middle" fill="#1a1a1a" textLength="108.25" lengthAdjust="spacingAndGlyphs" stroke="#1a1a1a" stroke-width="0.15">Mean receptor rank in HSPCs</text>
<text transform="translate(30.30,558.50) rotate(-90)" x="0" y="0" font-size="11.0" text-anchor="middle" fill="#1a1a1a" stroke="#1a1a1a" stroke-width="0.15" textLength="118.45" lengthAdjust="spacingAndGlyphs">Respective maximal ligand rank</text>
<text transform="translate(42.90,558.30) rotate(-90)" x="0" y="0" font-size="11.0" text-anchor="middle" fill="#1a1a1a" stroke="#1a1a1a" stroke-width="0.15" textLength="59.15" lengthAdjust="spacingAndGlyphs">in any niche cell</text>
<circle cx="76.92" cy="508.36" r="1.55" fill="#3c4560"/>
<circle cx="78.65" cy="509.06" r="1.55" fill="#3c4560"/>
<circle cx="80.38" cy="509.23" r="1.55" fill="#3c4560"/>
<circle cx="82.11" cy="509.06" r="1.55" fill="#3c4560"/>
<circle cx="83.84" cy="509.23" r="1.55" fill="#3c4560"/>
<circle cx="85.57" cy="509.06" r="1.55" fill="#3c4560"/>
<circle cx="87.30" cy="509.23" r="1.55" fill="#3c4560"/>
<circle cx="88.60" cy="509.23" r="1.55" fill="#3c4560"/>
<circle cx="92.92" cy="509.92" r="1.55" fill="#3c4560"/>
<circle cx="94.65" cy="509.23" r="1.55" fill="#3c4560"/>
<circle cx="95.95" cy="509.06" r="1.55" fill="#3c4560"/>
<circle cx="97.68" cy="508.88" r="1.55" fill="#3c4560"/>
<circle cx="99.41" cy="509.06" r="1.55" fill="#3c4560"/>
<circle cx="100.71" cy="509.23" r="1.55" fill="#3c4560"/>
<circle cx="102.44" cy="509.92" r="1.55" fill="#3c4560"/>
<circle cx="106.33" cy="509.92" r="1.55" fill="#3c4560"/>
<circle cx="108.06" cy="509.23" r="1.55" fill="#3c4560"/>
<circle cx="109.79" cy="508.88" r="1.55" fill="#3c4560"/>
<circle cx="111.52" cy="509.49" r="1.55" fill="#3c4560"/>
<circle cx="113.25" cy="509.92" r="1.55" fill="#3c4560"/>
<circle cx="114.55" cy="509.23" r="1.55" fill="#3c4560"/>
<circle cx="85.14" cy="513.38" r="1.55" fill="#3c4560"/>
<circle cx="86.44" cy="512.08" r="1.55" fill="#3c4560"/>
<circle cx="88.60" cy="511.65" r="1.55" fill="#3c4560"/>
<circle cx="99.41" cy="513.38" r="1.55" fill="#3c4560"/>
<circle cx="103.74" cy="513.38" r="1.55" fill="#3c4560"/>
<circle cx="105.47" cy="512.52" r="1.55" fill="#3c4560"/>
<circle cx="110.66" cy="511.65" r="1.55" fill="#3c4560"/>
<circle cx="112.82" cy="512.95" r="1.55" fill="#3c4560"/>
<circle cx="88.60" cy="519.00" r="1.55" fill="#3c4560"/>
<circle cx="90.76" cy="516.41" r="1.55" fill="#3c4560"/>
<circle cx="95.09" cy="515.98" r="1.55" fill="#3c4560"/>
<circle cx="105.47" cy="519.87" r="1.55" fill="#3c4560"/>
<circle cx="109.36" cy="519.44" r="1.55" fill="#3c4560"/>
<circle cx="113.25" cy="518.57" r="1.55" fill="#3c4560"/>
<circle cx="114.12" cy="517.27" r="1.55" fill="#3c4560"/>
<circle cx="94.22" cy="521.17" r="1.55" fill="#3c4560"/>
<circle cx="95.95" cy="521.34" r="1.55" fill="#3c4560"/>
<circle cx="97.68" cy="521.17" r="1.55" fill="#3c4560"/>
<circle cx="99.41" cy="520.99" r="1.55" fill="#3c4560"/>
<circle cx="94.65" cy="523.33" r="1.55" fill="#3c4560"/>
<circle cx="96.38" cy="523.07" r="1.55" fill="#3c4560"/>
<circle cx="110.22" cy="521.60" r="1.55" fill="#3c4560"/>
<circle cx="110.66" cy="523.07" r="1.55" fill="#3c4560"/>
<circle cx="86.87" cy="527.65" r="1.55" fill="#3c4560"/>
<circle cx="88.60" cy="528.95" r="1.55" fill="#3c4560"/>
<circle cx="90.76" cy="527.65" r="1.55" fill="#3c4560"/>
<circle cx="92.49" cy="526.18" r="1.55" fill="#3c4560"/>
<circle cx="100.71" cy="528.95" r="1.55" fill="#3c4560"/>
<circle cx="102.87" cy="528.52" r="1.55" fill="#3c4560"/>
<circle cx="104.60" cy="528.09" r="1.55" fill="#3c4560"/>
<circle cx="105.03" cy="529.38" r="1.55" fill="#3c4560"/>
<circle cx="112.39" cy="529.82" r="1.55" fill="#3c4560"/>
<circle cx="82.98" cy="530.68" r="1.55" fill="#3c4560"/>
<circle cx="83.84" cy="531.98" r="1.55" fill="#3c4560"/>
<circle cx="96.82" cy="530.85" r="1.55" fill="#3c4560"/>
<circle cx="114.73" cy="509.49" r="1.55" fill="#3c4560"/>
<circle cx="114.30" cy="511.65" r="1.55" fill="#3c4560"/>
<circle cx="116.46" cy="512.95" r="1.55" fill="#3c4560"/>
<circle cx="117.33" cy="514.68" r="1.55" fill="#3c4560"/>
<circle cx="114.73" cy="515.98" r="1.55" fill="#3c4560"/>
<circle cx="113.87" cy="518.14" r="1.55" fill="#3c4560"/>
<circle cx="117.76" cy="518.14" r="1.55" fill="#3c4560"/>
<circle cx="122.95" cy="509.06" r="1.55" fill="#3c4560"/>
<circle cx="122.52" cy="513.81" r="1.55" fill="#3c4560"/>
<circle cx="124.25" cy="515.98" r="1.55" fill="#3c4560"/>
<circle cx="120.79" cy="515.11" r="1.55" fill="#3c4560"/>
<circle cx="119.49" cy="516.84" r="1.55" fill="#3c4560"/>
<circle cx="127.27" cy="509.92" r="1.55" fill="#3c4560"/>
<circle cx="129.44" cy="509.06" r="1.55" fill="#3c4560"/>
<circle cx="130.30" cy="510.79" r="1.55" fill="#3c4560"/>
<circle cx="129.00" cy="512.52" r="1.55" fill="#3c4560"/>
<circle cx="131.60" cy="512.95" r="1.55" fill="#3c4560"/>
<circle cx="129.44" cy="515.54" r="1.55" fill="#3c4560"/>
<circle cx="130.73" cy="517.27" r="1.55" fill="#3c4560"/>
<circle cx="129.00" cy="517.71" r="1.55" fill="#3c4560"/>
<circle cx="133.76" cy="515.98" r="1.55" fill="#3c4560"/>
<circle cx="135.92" cy="515.11" r="1.55" fill="#3c4560"/>
<circle cx="138.95" cy="514.25" r="1.55" fill="#3c4560"/>
<circle cx="137.22" cy="517.27" r="1.55" fill="#3c4560"/>
<circle cx="138.95" cy="519.00" r="1.55" fill="#3c4560"/>
<circle cx="140.68" cy="516.84" r="1.55" fill="#3c4560"/>
<circle cx="141.98" cy="518.14" r="1.55" fill="#3c4560"/>
<circle cx="138.09" cy="521.17" r="1.55" fill="#3c4560"/>
<circle cx="141.11" cy="521.17" r="1.55" fill="#3c4560"/>
<circle cx="143.28" cy="521.60" r="1.55" fill="#3c4560"/>
<circle cx="139.82" cy="507.76" r="1.55" fill="#3c4560"/>
<circle cx="141.11" cy="509.06" r="1.55" fill="#3c4560"/>
<circle cx="141.55" cy="511.65" r="1.55" fill="#3c4560"/>
<circle cx="143.28" cy="510.35" r="1.55" fill="#3c4560"/>
<circle cx="145.44" cy="510.35" r="1.55" fill="#3c4560"/>
<circle cx="146.30" cy="517.27" r="1.55" fill="#3c4560"/>
<circle cx="149.33" cy="509.49" r="1.55" fill="#3c4560"/>
<circle cx="150.20" cy="511.65" r="1.55" fill="#3c4560"/>
<circle cx="149.33" cy="513.38" r="1.55" fill="#3c4560"/>
<circle cx="151.06" cy="515.98" r="1.55" fill="#3c4560"/>
<circle cx="151.93" cy="517.27" r="1.55" fill="#3c4560"/>
<circle cx="154.96" cy="512.95" r="1.55" fill="#3c4560"/>
<circle cx="157.12" cy="511.22" r="1.55" fill="#3c4560"/>
<circle cx="156.69" cy="518.57" r="1.55" fill="#3c4560"/>
<circle cx="148.47" cy="520.73" r="1.55" fill="#3c4560"/>
<circle cx="150.20" cy="521.60" r="1.55" fill="#3c4560"/>
<circle cx="153.66" cy="521.17" r="1.55" fill="#3c4560"/>
<circle cx="152.79" cy="523.33" r="1.55" fill="#3c4560"/>
<circle cx="151.49" cy="525.92" r="1.55" fill="#3c4560"/>
<circle cx="156.69" cy="523.76" r="1.55" fill="#3c4560"/>
<circle cx="114.73" cy="521.60" r="1.55" fill="#3c4560"/>
<circle cx="116.03" cy="523.33" r="1.55" fill="#3c4560"/>
<circle cx="117.33" cy="525.06" r="1.55" fill="#3c4560"/>
<circle cx="114.73" cy="525.92" r="1.55" fill="#3c4560"/>
<circle cx="125.98" cy="522.03" r="1.55" fill="#3c4560"/>
<circle cx="128.14" cy="521.17" r="1.55" fill="#3c4560"/>
<circle cx="131.17" cy="521.17" r="1.55" fill="#3c4560"/>
<circle cx="125.11" cy="522.90" r="1.55" fill="#3c4560"/>
<circle cx="123.81" cy="525.92" r="1.55" fill="#3c4560"/>
<circle cx="121.65" cy="526.36" r="1.55" fill="#3c4560"/>
<circle cx="120.35" cy="527.65" r="1.55" fill="#3c4560"/>
<circle cx="119.49" cy="528.95" r="1.55" fill="#3c4560"/>
<circle cx="135.49" cy="525.49" r="1.55" fill="#3c4560"/>
<circle cx="138.95" cy="528.52" r="1.55" fill="#3c4560"/>
<circle cx="144.14" cy="528.52" r="1.55" fill="#3c4560"/>
<circle cx="145.87" cy="530.68" r="1.55" fill="#3c4560"/>
<circle cx="147.60" cy="531.98" r="1.55" fill="#3c4560"/>
<circle cx="158.16" cy="509.49" r="1.55" fill="#3c4560"/>
<circle cx="159.89" cy="509.06" r="1.55" fill="#3c4560"/>
<circle cx="157.30" cy="511.65" r="1.55" fill="#3c4560"/>
<circle cx="159.46" cy="511.65" r="1.55" fill="#3c4560"/>
<circle cx="161.19" cy="513.38" r="1.55" fill="#3c4560"/>
<circle cx="158.60" cy="514.25" r="1.55" fill="#3c4560"/>
<circle cx="156.87" cy="517.71" r="1.55" fill="#3c4560"/>
<circle cx="159.89" cy="517.27" r="1.55" fill="#3c4560"/>
<circle cx="161.62" cy="521.17" r="1.55" fill="#3c4560"/>
<circle cx="158.16" cy="524.19" r="1.55" fill="#3c4560"/>
<circle cx="164.65" cy="509.06" r="1.55" fill="#3c4560"/>
<circle cx="166.38" cy="508.19" r="1.55" fill="#3c4560"/>
<circle cx="167.25" cy="510.35" r="1.55" fill="#3c4560"/>
<circle cx="165.52" cy="511.22" r="1.55" fill="#3c4560"/>
<circle cx="169.84" cy="509.49" r="1.55" fill="#3c4560"/>
<circle cx="171.14" cy="508.62" r="1.55" fill="#3c4560"/>
<circle cx="174.60" cy="508.19" r="1.55" fill="#3c4560"/>
<circle cx="164.22" cy="513.38" r="1.55" fill="#3c4560"/>
<circle cx="164.65" cy="516.41" r="1.55" fill="#3c4560"/>
<circle cx="163.35" cy="518.14" r="1.55" fill="#3c4560"/>
<circle cx="165.95" cy="519.00" r="1.55" fill="#3c4560"/>
<circle cx="167.25" cy="520.73" r="1.55" fill="#3c4560"/>
<circle cx="172.44" cy="515.98" r="1.55" fill="#3c4560"/>
<circle cx="172.87" cy="519.87" r="1.55" fill="#3c4560"/>
<circle cx="174.17" cy="520.73" r="1.55" fill="#3c4560"/>
<circle cx="171.57" cy="521.60" r="1.55" fill="#3c4560"/>
<circle cx="170.27" cy="523.33" r="1.55" fill="#3c4560"/>
<circle cx="168.98" cy="524.63" r="1.55" fill="#3c4560"/>
<circle cx="166.38" cy="525.92" r="1.55" fill="#3c4560"/>
<circle cx="165.08" cy="527.22" r="1.55" fill="#3c4560"/>
<circle cx="164.65" cy="528.95" r="1.55" fill="#3c4560"/>
<circle cx="168.98" cy="528.09" r="1.55" fill="#3c4560"/>
<circle cx="171.14" cy="525.06" r="1.55" fill="#3c4560"/>
<circle cx="176.76" cy="513.38" r="1.55" fill="#3c4560"/>
<circle cx="179.36" cy="516.84" r="1.55" fill="#3c4560"/>
<circle cx="178.92" cy="523.76" r="1.55" fill="#3c4560"/>
<circle cx="177.63" cy="525.06" r="1.55" fill="#3c4560"/>
<circle cx="177.19" cy="526.36" r="1.55" fill="#3c4560"/>
<circle cx="179.79" cy="525.92" r="1.55" fill="#3c4560"/>
<circle cx="181.09" cy="526.36" r="1.55" fill="#3c4560"/>
<circle cx="180.65" cy="522.03" r="1.55" fill="#3c4560"/>
<circle cx="182.38" cy="520.73" r="1.55" fill="#3c4560"/>
<circle cx="184.55" cy="519.00" r="1.55" fill="#3c4560"/>
<circle cx="185.41" cy="521.17" r="1.55" fill="#3c4560"/>
<circle cx="183.25" cy="509.06" r="1.55" fill="#3c4560"/>
<circle cx="185.84" cy="509.49" r="1.55" fill="#3c4560"/>
<circle cx="186.28" cy="512.95" r="1.55" fill="#3c4560"/>
<circle cx="183.68" cy="515.54" r="1.55" fill="#3c4560"/>
<circle cx="185.84" cy="524.19" r="1.55" fill="#3c4560"/>
<circle cx="188.44" cy="524.63" r="1.55" fill="#3c4560"/>
<circle cx="191.03" cy="515.54" r="1.55" fill="#3c4560"/>
<circle cx="192.33" cy="517.27" r="1.55" fill="#3c4560"/>
<circle cx="194.93" cy="515.98" r="1.55" fill="#3c4560"/>
<circle cx="194.06" cy="519.00" r="1.55" fill="#3c4560"/>
<circle cx="192.33" cy="522.03" r="1.55" fill="#3c4560"/>
<circle cx="191.47" cy="524.19" r="1.55" fill="#3c4560"/>
<circle cx="190.17" cy="523.33" r="1.55" fill="#3c4560"/>
<circle cx="193.20" cy="525.49" r="1.55" fill="#3c4560"/>
<circle cx="195.36" cy="509.06" r="1.55" fill="#3c4560"/>
<circle cx="196.66" cy="508.62" r="1.55" fill="#3c4560"/>
<circle cx="197.52" cy="509.92" r="1.55" fill="#3c4560"/>
<circle cx="198.39" cy="511.65" r="1.55" fill="#3c4560"/>
<circle cx="199.25" cy="509.06" r="1.55" fill="#3c4560"/>
<circle cx="199.69" cy="520.30" r="1.55" fill="#3c4560"/>
<circle cx="199.25" cy="523.76" r="1.55" fill="#3c4560"/>
<circle cx="199.98" cy="508.39" r="1.55" fill="#3c4560"/>
<circle cx="202.43" cy="510.35" r="1.55" fill="#3c4560"/>
<circle cx="204.88" cy="509.86" r="1.55" fill="#3c4560"/>
<circle cx="206.84" cy="511.33" r="1.55" fill="#3c4560"/>
<circle cx="207.33" cy="512.80" r="1.55" fill="#3c4560"/>
<circle cx="210.27" cy="508.88" r="1.55" fill="#3c4560"/>
<circle cx="212.24" cy="510.84" r="1.55" fill="#3c4560"/>
<circle cx="214.20" cy="508.39" r="1.55" fill="#3c4560"/>
<circle cx="213.71" cy="509.86" r="1.55" fill="#3c4560"/>
<circle cx="211.75" cy="512.31" r="1.55" fill="#3c4560"/>
<circle cx="219.59" cy="510.84" r="1.55" fill="#3c4560"/>
<circle cx="222.04" cy="510.35" r="1.55" fill="#3c4560"/>
<circle cx="223.51" cy="509.37" r="1.55" fill="#3c4560"/>
<circle cx="224.98" cy="508.88" r="1.55" fill="#3c4560"/>
<circle cx="220.08" cy="514.27" r="1.55" fill="#3c4560"/>
<circle cx="221.55" cy="515.75" r="1.55" fill="#3c4560"/>
<circle cx="230.37" cy="511.82" r="1.55" fill="#3c4560"/>
<circle cx="231.35" cy="513.78" r="1.55" fill="#3c4560"/>
<circle cx="232.82" cy="512.31" r="1.55" fill="#3c4560"/>
<circle cx="234.29" cy="510.84" r="1.55" fill="#3c4560"/>
<circle cx="235.76" cy="508.88" r="1.55" fill="#3c4560"/>
<circle cx="236.75" cy="513.78" r="1.55" fill="#3c4560"/>
<circle cx="200.96" cy="518.69" r="1.55" fill="#3c4560"/>
<circle cx="202.92" cy="520.16" r="1.55" fill="#3c4560"/>
<circle cx="200.47" cy="521.63" r="1.55" fill="#3c4560"/>
<circle cx="201.94" cy="523.59" r="1.55" fill="#3c4560"/>
<circle cx="201.45" cy="526.53" r="1.55" fill="#3c4560"/>
<circle cx="205.37" cy="527.02" r="1.55" fill="#3c4560"/>
<circle cx="208.80" cy="516.73" r="1.55" fill="#3c4560"/>
<circle cx="209.78" cy="518.69" r="1.55" fill="#3c4560"/>
<circle cx="208.80" cy="521.14" r="1.55" fill="#3c4560"/>
<circle cx="210.76" cy="520.65" r="1.55" fill="#3c4560"/>
<circle cx="213.22" cy="515.25" r="1.55" fill="#3c4560"/>
<circle cx="214.69" cy="517.71" r="1.55" fill="#3c4560"/>
<circle cx="213.71" cy="521.14" r="1.55" fill="#3c4560"/>
<circle cx="216.16" cy="519.18" r="1.55" fill="#3c4560"/>
<circle cx="218.61" cy="518.20" r="1.55" fill="#3c4560"/>
<circle cx="217.63" cy="520.65" r="1.55" fill="#3c4560"/>
<circle cx="220.08" cy="520.16" r="1.55" fill="#3c4560"/>
<circle cx="222.04" cy="518.69" r="1.55" fill="#3c4560"/>
<circle cx="223.51" cy="517.71" r="1.55" fill="#3c4560"/>
<circle cx="224.98" cy="519.18" r="1.55" fill="#3c4560"/>
<circle cx="225.96" cy="520.65" r="1.55" fill="#3c4560"/>
<circle cx="224.49" cy="516.73" r="1.55" fill="#3c4560"/>
<circle cx="226.94" cy="515.25" r="1.55" fill="#3c4560"/>
<circle cx="228.41" cy="516.73" r="1.55" fill="#3c4560"/>
<circle cx="229.39" cy="517.71" r="1.55" fill="#3c4560"/>
<circle cx="233.31" cy="519.18" r="1.55" fill="#3c4560"/>
<circle cx="237.24" cy="520.65" r="1.55" fill="#3c4560"/>
<circle cx="236.75" cy="522.61" r="1.55" fill="#3c4560"/>
<circle cx="238.22" cy="524.08" r="1.55" fill="#3c4560"/>
<circle cx="238.71" cy="525.55" r="1.55" fill="#3c4560"/>
<circle cx="242.14" cy="518.20" r="1.55" fill="#3c4560"/>
<circle cx="242.63" cy="519.18" r="1.55" fill="#3c4560"/>
<circle cx="211.75" cy="528.98" r="1.55" fill="#3c4560"/>
<circle cx="213.22" cy="529.96" r="1.55" fill="#3c4560"/>
<circle cx="219.59" cy="528.98" r="1.55" fill="#3c4560"/>
<circle cx="225.47" cy="526.04" r="1.55" fill="#3c4560"/>
<circle cx="233.31" cy="530.94" r="1.55" fill="#3c4560"/>
<circle cx="79.81" cy="539.23" r="1.55" fill="#3c4560"/>
<circle cx="80.96" cy="554.23" r="1.55" fill="#3c4560"/>
<circle cx="83.85" cy="531.15" r="1.55" fill="#3c4560"/>
<circle cx="86.73" cy="535.19" r="1.55" fill="#3c4560"/>
<circle cx="87.31" cy="536.92" r="1.55" fill="#3c4560"/>
<circle cx="94.23" cy="538.08" r="1.55" fill="#3c4560"/>
<circle cx="97.11" cy="542.11" r="1.55" fill="#3c4560"/>
<circle cx="96.54" cy="531.15" r="1.55" fill="#3c4560"/>
<circle cx="104.61" cy="530.58" r="1.55" fill="#3c4560"/>
<circle cx="112.11" cy="530.58" r="1.55" fill="#3c4560"/>
<circle cx="107.50" cy="539.81" r="1.55" fill="#3c4560"/>
<circle cx="110.96" cy="539.81" r="1.55" fill="#3c4560"/>
<circle cx="114.42" cy="542.11" r="1.55" fill="#3c4560"/>
<circle cx="110.96" cy="545.58" r="1.55" fill="#3c4560"/>
<circle cx="114.42" cy="546.15" r="1.55" fill="#3c4560"/>
<circle cx="120.77" cy="547.31" r="1.55" fill="#3c4560"/>
<circle cx="116.73" cy="533.46" r="1.55" fill="#3c4560"/>
<circle cx="119.04" cy="534.62" r="1.55" fill="#3c4560"/>
<circle cx="124.23" cy="532.88" r="1.55" fill="#3c4560"/>
<circle cx="125.96" cy="534.62" r="1.55" fill="#3c4560"/>
<circle cx="86.15" cy="551.35" r="1.55" fill="#3c4560"/>
<circle cx="88.46" cy="553.65" r="1.55" fill="#3c4560"/>
<circle cx="90.19" cy="554.23" r="1.55" fill="#3c4560"/>
<circle cx="92.50" cy="555.38" r="1.55" fill="#3c4560"/>
<circle cx="88.46" cy="557.69" r="1.55" fill="#3c4560"/>
<circle cx="106.34" cy="551.35" r="1.55" fill="#3c4560"/>
<circle cx="112.69" cy="550.77" r="1.55" fill="#3c4560"/>
<circle cx="113.84" cy="554.81" r="1.55" fill="#3c4560"/>
<circle cx="103.46" cy="555.96" r="1.55" fill="#3c4560"/>
<circle cx="104.61" cy="557.69" r="1.55" fill="#3c4560"/>
<circle cx="107.50" cy="557.11" r="1.55" fill="#3c4560"/>
<circle cx="109.23" cy="555.96" r="1.55" fill="#3c4560"/>
<circle cx="107.50" cy="559.42" r="1.55" fill="#3c4560"/>
<circle cx="81.54" cy="565.19" r="1.55" fill="#3c4560"/>
<circle cx="82.11" cy="566.92" r="1.55" fill="#3c4560"/>
<circle cx="87.31" cy="566.34" r="1.55" fill="#3c4560"/>
<circle cx="106.34" cy="564.04" r="1.55" fill="#3c4560"/>
<circle cx="106.92" cy="565.19" r="1.55" fill="#3c4560"/>
<circle cx="113.27" cy="566.92" r="1.55" fill="#3c4560"/>
<circle cx="120.19" cy="567.50" r="1.55" fill="#3c4560"/>
<circle cx="85.58" cy="573.84" r="1.55" fill="#3c4560"/>
<circle cx="140.52" cy="535.37" r="1.55" fill="#3c4560"/>
<circle cx="144.69" cy="535.37" r="1.55" fill="#3c4560"/>
<circle cx="148.87" cy="536.56" r="1.55" fill="#3c4560"/>
<circle cx="148.27" cy="538.94" r="1.55" fill="#3c4560"/>
<circle cx="147.67" cy="540.13" r="1.55" fill="#3c4560"/>
<circle cx="152.44" cy="535.37" r="1.55" fill="#3c4560"/>
<circle cx="155.42" cy="535.37" r="1.55" fill="#3c4560"/>
<circle cx="156.62" cy="538.94" r="1.55" fill="#3c4560"/>
<circle cx="154.83" cy="537.75" r="1.55" fill="#3c4560"/>
<circle cx="144.10" cy="541.68" r="1.55" fill="#3c4560"/>
<circle cx="138.73" cy="547.88" r="1.55" fill="#3c4560"/>
<circle cx="142.31" cy="553.25" r="1.55" fill="#3c4560"/>
<circle cx="142.90" cy="557.42" r="1.55" fill="#3c4560"/>
<circle cx="145.29" cy="563.98" r="1.55" fill="#3c4560"/>
<circle cx="145.88" cy="566.37" r="1.55" fill="#3c4560"/>
<circle cx="164.37" cy="535.37" r="1.55" fill="#3c4560"/>
<circle cx="168.54" cy="535.96" r="1.55" fill="#3c4560"/>
<circle cx="173.31" cy="535.37" r="1.55" fill="#3c4560"/>
<circle cx="175.69" cy="537.75" r="1.55" fill="#3c4560"/>
<circle cx="163.77" cy="542.52" r="1.55" fill="#3c4560"/>
<circle cx="167.35" cy="543.35" r="1.55" fill="#3c4560"/>
<circle cx="163.17" cy="547.29" r="1.55" fill="#3c4560"/>
<circle cx="161.98" cy="548.48" r="1.55" fill="#3c4560"/>
<circle cx="178.08" cy="548.48" r="1.55" fill="#3c4560"/>
<circle cx="182.25" cy="550.27" r="1.55" fill="#3c4560"/>
<circle cx="189.40" cy="543.71" r="1.55" fill="#3c4560"/>
<circle cx="158.40" cy="557.42" r="1.55" fill="#3c4560"/>
<circle cx="167.35" cy="565.53" r="1.55" fill="#3c4560"/>
<circle cx="188.21" cy="559.81" r="1.55" fill="#3c4560"/>
<circle cx="190.38" cy="536.56" r="1.55" fill="#3c4560"/>
<circle cx="194.56" cy="537.15" r="1.55" fill="#3c4560"/>
<circle cx="198.13" cy="535.96" r="1.55" fill="#3c4560"/>
<circle cx="212.44" cy="535.01" r="1.55" fill="#3c4560"/>
<circle cx="222.58" cy="537.15" r="1.55" fill="#3c4560"/>
<circle cx="223.77" cy="537.15" r="1.55" fill="#3c4560"/>
<circle cx="222.58" cy="540.13" r="1.55" fill="#3c4560"/>
<circle cx="234.50" cy="535.37" r="1.55" fill="#3c4560"/>
<circle cx="235.69" cy="535.01" r="1.55" fill="#3c4560"/>
<circle cx="239.27" cy="534.53" r="1.55" fill="#3c4560"/>
<circle cx="190.38" cy="543.12" r="1.55" fill="#3c4560"/>
<circle cx="192.17" cy="546.69" r="1.55" fill="#3c4560"/>
<circle cx="191.58" cy="550.27" r="1.55" fill="#3c4560"/>
<circle cx="188.60" cy="559.81" r="1.55" fill="#3c4560"/>
<circle cx="198.13" cy="558.02" r="1.55" fill="#3c4560"/>
<circle cx="213.04" cy="545.50" r="1.55" fill="#3c4560"/>
<circle cx="231.52" cy="545.50" r="1.55" fill="#3c4560"/>
<circle cx="208.87" cy="550.27" r="1.55" fill="#3c4560"/>
<circle cx="208.27" cy="554.44" r="1.55" fill="#3c4560"/>
<circle cx="211.85" cy="556.23" r="1.55" fill="#3c4560"/>
<circle cx="227.35" cy="555.04" r="1.55" fill="#3c4560"/>
<circle cx="228.54" cy="553.85" r="1.55" fill="#3c4560"/>
<circle cx="232.12" cy="555.04" r="1.55" fill="#3c4560"/>
<circle cx="234.50" cy="555.04" r="1.55" fill="#3c4560"/>
<circle cx="211.25" cy="563.98" r="1.55" fill="#3c4560"/>
<circle cx="213.04" cy="566.96" r="1.55" fill="#3c4560"/>
<circle cx="218.40" cy="567.56" r="1.55" fill="#3c4560"/>
<circle cx="220.19" cy="565.77" r="1.55" fill="#3c4560"/>
<circle cx="85.58" cy="574.04" r="1.55" fill="#3c4560"/>
<circle cx="78.08" cy="578.65" r="1.55" fill="#3c4560"/>
<circle cx="79.81" cy="578.65" r="1.55" fill="#3c4560"/>
<circle cx="88.46" cy="578.65" r="1.55" fill="#3c4560"/>
<circle cx="86.15" cy="582.46" r="1.55" fill="#3c4560"/>
<circle cx="78.65" cy="586.73" r="1.55" fill="#3c4560"/>
<circle cx="83.27" cy="586.15" r="1.55" fill="#3c4560"/>
<circle cx="82.69" cy="589.61" r="1.55" fill="#3c4560"/>
<circle cx="79.81" cy="594.23" r="1.55" fill="#3c4560"/>
<circle cx="82.11" cy="606.92" r="1.55" fill="#3c4560"/>
<circle cx="82.11" cy="609.23" r="1.55" fill="#3c4560"/>
<circle cx="102.31" cy="581.31" r="1.55" fill="#3c4560"/>
<circle cx="108.08" cy="585.00" r="1.55" fill="#3c4560"/>
<circle cx="118.46" cy="586.15" r="1.55" fill="#3c4560"/>
<circle cx="102.88" cy="589.61" r="1.55" fill="#3c4560"/>
<circle cx="96.54" cy="590.77" r="1.55" fill="#3c4560"/>
<circle cx="101.15" cy="593.08" r="1.55" fill="#3c4560"/>
<circle cx="113.84" cy="590.77" r="1.55" fill="#3c4560"/>
<circle cx="126.54" cy="592.15" r="1.55" fill="#3c4560"/>
<circle cx="102.65" cy="597.35" r="1.55" fill="#3c4560"/>
<circle cx="109.23" cy="597.35" r="1.55" fill="#3c4560"/>
<circle cx="109.23" cy="604.96" r="1.55" fill="#3c4560"/>
<circle cx="114.77" cy="604.27" r="1.55" fill="#3c4560"/>
<circle cx="129.42" cy="578.08" r="1.55" fill="#3c4560"/>
<circle cx="150.06" cy="571.19" r="1.55" fill="#3c4560"/>
<circle cx="147.08" cy="574.17" r="1.55" fill="#3c4560"/>
<circle cx="139.92" cy="574.17" r="1.55" fill="#3c4560"/>
<circle cx="137.54" cy="575.37" r="1.55" fill="#3c4560"/>
<circle cx="130.38" cy="578.11" r="1.55" fill="#3c4560"/>
<circle cx="133.37" cy="582.52" r="1.55" fill="#3c4560"/>
<circle cx="139.33" cy="582.52" r="1.55" fill="#3c4560"/>
<circle cx="137.54" cy="589.67" r="1.55" fill="#3c4560"/>
<circle cx="133.96" cy="596.47" r="1.55" fill="#3c4560"/>
<circle cx="145.88" cy="600.05" r="1.55" fill="#3c4560"/>
<circle cx="131.34" cy="604.34" r="1.55" fill="#3c4560"/>
<circle cx="129.79" cy="608.75" r="1.55" fill="#3c4560"/>
<circle cx="131.58" cy="608.75" r="1.55" fill="#3c4560"/>
<circle cx="138.13" cy="608.75" r="1.55" fill="#3c4560"/>
<circle cx="144.10" cy="608.75" r="1.55" fill="#3c4560"/>
<circle cx="162.58" cy="596.23" r="1.55" fill="#3c4560"/>
<circle cx="178.67" cy="575.01" r="1.55" fill="#3c4560"/>
<circle cx="182.85" cy="578.11" r="1.55" fill="#3c4560"/>
<circle cx="185.83" cy="582.88" r="1.55" fill="#3c4560"/>
<circle cx="180.46" cy="585.26" r="1.55" fill="#3c4560"/>
<circle cx="185.83" cy="608.75" r="1.55" fill="#3c4560"/>
<circle cx="187.62" cy="608.75" r="1.55" fill="#3c4560"/>
<circle cx="189.40" cy="608.75" r="1.55" fill="#3c4560"/>
<circle cx="192.53" cy="581.33" r="1.55" fill="#3c4560"/>
<circle cx="197.54" cy="575.37" r="1.55" fill="#3c4560"/>
<circle cx="204.93" cy="577.75" r="1.55" fill="#3c4560"/>
<circle cx="209.22" cy="582.52" r="1.55" fill="#3c4560"/>
<circle cx="212.80" cy="579.30" r="1.55" fill="#3c4560"/>
<circle cx="220.79" cy="582.52" r="1.55" fill="#3c4560"/>
<circle cx="223.53" cy="577.75" r="1.55" fill="#3c4560"/>
<circle cx="225.56" cy="573.82" r="1.55" fill="#3c4560"/>
<circle cx="241.89" cy="582.88" r="1.55" fill="#3c4560"/>
<circle cx="188.60" cy="608.75" r="1.55" fill="#3c4560"/>
<circle cx="189.79" cy="608.75" r="1.55" fill="#3c4560"/>
<circle cx="208.87" cy="608.75" r="1.55" fill="#3c4560"/>
<circle cx="219.24" cy="604.94" r="1.55" fill="#3c4560"/>
<circle cx="225.56" cy="608.75" r="1.55" fill="#3c4560"/>
<circle cx="232.12" cy="603.74" r="1.55" fill="#3c4560"/>
<circle cx="232.71" cy="608.75" r="1.55" fill="#3c4560"/>
<circle cx="76.10" cy="507.00" r="1.55" fill="#3c4560"/>
<circle cx="78.00" cy="508.00" r="1.55" fill="#3c4560"/>
<circle cx="76.10" cy="509.05" r="1.55" fill="#3c4560"/>
<circle cx="78.00" cy="510.05" r="1.55" fill="#3c4560"/>
<circle cx="76.10" cy="511.10" r="1.55" fill="#3c4560"/>
<circle cx="78.00" cy="512.10" r="1.55" fill="#3c4560"/>
<circle cx="76.10" cy="513.15" r="1.55" fill="#3c4560"/>
<circle cx="78.00" cy="514.15" r="1.55" fill="#3c4560"/>
<circle cx="76.10" cy="515.20" r="1.55" fill="#3c4560"/>
<circle cx="78.00" cy="516.20" r="1.55" fill="#3c4560"/>
<circle cx="76.10" cy="517.25" r="1.55" fill="#3c4560"/>
<circle cx="78.00" cy="518.25" r="1.55" fill="#3c4560"/>
<circle cx="76.10" cy="519.30" r="1.55" fill="#3c4560"/>
<circle cx="78.00" cy="520.30" r="1.55" fill="#3c4560"/>
<circle cx="76.10" cy="521.35" r="1.55" fill="#3c4560"/>
<circle cx="78.00" cy="522.35" r="1.55" fill="#3c4560"/>
<circle cx="76.10" cy="523.40" r="1.55" fill="#3c4560"/>
<circle cx="78.00" cy="524.40" r="1.55" fill="#3c4560"/>
<circle cx="76.10" cy="525.45" r="1.55" fill="#3c4560"/>
<circle cx="76.10" cy="528.25" r="1.55" fill="#3c4560"/>
<circle cx="76.10" cy="531.05" r="1.55" fill="#3c4560"/>
<circle cx="76.10" cy="533.85" r="1.55" fill="#3c4560"/>
<circle cx="76.92" cy="531.15" r="1.55" fill="#3c4560"/>
<circle cx="77.50" cy="532.88" r="1.55" fill="#3c4560"/>
<circle cx="76.92" cy="535.19" r="1.55" fill="#3c4560"/>
<circle cx="76.92" cy="536.92" r="1.55" fill="#3c4560"/>
<circle cx="77.50" cy="538.65" r="1.55" fill="#3c4560"/>
<circle cx="76.92" cy="540.96" r="1.55" fill="#3c4560"/>
<circle cx="76.92" cy="546.15" r="1.55" fill="#3c4560"/>
<circle cx="76.92" cy="550.77" r="1.55" fill="#3c4560"/>
<circle cx="76.92" cy="553.65" r="1.55" fill="#3c4560"/>
<circle cx="77.50" cy="555.38" r="1.55" fill="#3c4560"/>
<circle cx="76.92" cy="557.69" r="1.55" fill="#3c4560"/>
<circle cx="76.92" cy="565.19" r="1.55" fill="#3c4560"/>
<circle cx="76.92" cy="573.84" r="1.55" fill="#3c4560"/>
<circle cx="76.92" cy="574.04" r="1.55" fill="#3c4560"/>
<circle cx="76.35" cy="578.65" r="1.55" fill="#3c4560"/>
<circle cx="76.92" cy="582.69" r="1.55" fill="#3c4560"/>
<circle cx="76.35" cy="586.15" r="1.55" fill="#3c4560"/>
<circle cx="77.50" cy="587.31" r="1.55" fill="#3c4560"/>
<circle cx="76.92" cy="591.35" r="1.55" fill="#3c4560"/>
<circle cx="76.92" cy="594.23" r="1.55" fill="#3c4560"/>
<circle cx="76.92" cy="600.58" r="1.55" fill="#3c4560"/>
<circle cx="76.92" cy="604.61" r="1.55" fill="#3c4560"/>
<circle cx="76.35" cy="606.92" r="1.55" fill="#3c4560"/>
<circle cx="76.92" cy="609.23" r="1.55" fill="#3c4560"/>
<circle cx="78.50" cy="514.50" r="1.55" fill="#3c4560"/>
<circle cx="80.00" cy="516.30" r="1.55" fill="#3c4560"/>
<circle cx="81.50" cy="518.30" r="1.55" fill="#3c4560"/>
<circle cx="82.60" cy="520.40" r="1.55" fill="#3c4560"/>
<circle cx="79.20" cy="517.60" r="1.55" fill="#3c4560"/>
<circle cx="80.60" cy="519.80" r="1.55" fill="#3c4560"/>
<circle cx="81.00" cy="521.80" r="1.55" fill="#3c4560"/>
<circle cx="79.00" cy="520.80" r="1.55" fill="#3c4560"/>
<circle cx="79.30" cy="523.00" r="1.55" fill="#3c4560"/>
<circle cx="78.40" cy="518.80" r="1.55" fill="#3c4560"/>
<circle cx="229.00" cy="508.90" r="2.00" fill="#d40f84"/>
<circle cx="238.00" cy="508.50" r="2.00" fill="#d40f84"/>
<circle cx="240.50" cy="508.50" r="2.00" fill="#d40f84"/>
<circle cx="241.50" cy="514.25" r="2.00" fill="#d40f84"/>
<circle cx="204.40" cy="516.70" r="2.00" fill="#d40f84"/>
<text x="180.40" y="606.30" font-size="8.2" fill="#222" textLength="12.80" lengthAdjust="spacingAndGlyphs" stroke="#222" stroke-width="0.18">123</text>
<text x="209.10" y="606.30" font-size="8.2" text-anchor="middle" fill="#222" stroke="#222" stroke-width="0.18">4</text>
<text x="220.70" y="600.60" font-size="8.2" text-anchor="middle" fill="#222" stroke="#222" stroke-width="0.18">5</text>
<text x="227.30" y="606.90" font-size="8.2" text-anchor="middle" fill="#222" stroke="#222" stroke-width="0.18">6</text>
<text x="234.40" y="600.10" font-size="8.2" text-anchor="middle" fill="#222" stroke="#222" stroke-width="0.18">7</text>
<text x="239.60" y="611.30" font-size="8.2" text-anchor="middle" fill="#222" stroke="#222" stroke-width="0.18">8</text>
<text x="253.30" y="511.60" font-size="8.4" fill="#1a1a1a" textLength="43.80" lengthAdjust="spacingAndGlyphs" stroke="#1a1a1a" stroke-width="0.18">1:<tspan font-style="italic">Ceacam1</tspan></text>
<text x="253.30" y="522.03" font-size="8.4" fill="#1a1a1a" textLength="35.30" lengthAdjust="spacingAndGlyphs" stroke="#1a1a1a" stroke-width="0.18">2:<tspan font-style="italic">Lmbr1l</tspan></text>
<text x="253.30" y="532.46" font-size="8.4" fill="#1a1a1a" textLength="30.90" lengthAdjust="spacingAndGlyphs" stroke="#1a1a1a" stroke-width="0.18">3:<tspan font-style="italic">Ifngr2</tspan></text>
<text x="253.30" y="542.89" font-size="8.4" fill="#1a1a1a" textLength="29.40" lengthAdjust="spacingAndGlyphs" stroke="#1a1a1a" stroke-width="0.18">4:<tspan font-style="italic">Dpp4</tspan></text>
<text x="253.30" y="553.32" font-size="8.4" fill="#1a1a1a" textLength="24.30" lengthAdjust="spacingAndGlyphs" stroke="#1a1a1a" stroke-width="0.18">5:<tspan font-style="italic">Smo</tspan></text>
<text x="253.30" y="563.75" font-size="8.4" fill="#1a1a1a" textLength="24.60" lengthAdjust="spacingAndGlyphs" stroke="#1a1a1a" stroke-width="0.18">6:<tspan font-style="italic">Il21r</tspan></text>
<text x="253.30" y="574.18" font-size="8.4" fill="#1a1a1a" textLength="30.90" lengthAdjust="spacingAndGlyphs" stroke="#1a1a1a" stroke-width="0.18">7:<tspan font-style="italic">Plgrkt</tspan></text>
<text x="253.30" y="584.61" font-size="8.4" fill="#1a1a1a" textLength="29.70" lengthAdjust="spacingAndGlyphs" stroke="#1a1a1a" stroke-width="0.18">8:<tspan font-style="italic">Ifngr1</tspan></text>
<text x="399.60" y="507.80" font-size="9.4" fill="#1a1a1a" textLength="60.50" lengthAdjust="spacingAndGlyphs" stroke="#1a1a1a" stroke-width="0.12">Euclidian distance</text>
<text x="397.30" y="519.90" font-size="8.0" text-anchor="middle" fill="#222" stroke="#222" stroke-width="0.18">0</text>
<line x1="397.30" y1="524.00" x2="397.30" y2="527.30" stroke="#111" stroke-width="1.1"/>
<text x="410.30" y="519.90" font-size="8.0" text-anchor="middle" fill="#222" stroke="#222" stroke-width="0.18">1</text>
<line x1="410.30" y1="524.00" x2="410.30" y2="527.30" stroke="#111" stroke-width="1.1"/>
<text x="423.30" y="519.90" font-size="8.0" text-anchor="middle" fill="#222" stroke="#222" stroke-width="0.18">2</text>
<line x1="423.30" y1="524.00" x2="423.30" y2="527.30" stroke="#111" stroke-width="1.1"/>
<text x="436.30" y="519.90" font-size="8.0" text-anchor="middle" fill="#222" stroke="#222" stroke-width="0.18">3</text>
<line x1="436.30" y1="524.00" x2="436.30" y2="527.30" stroke="#111" stroke-width="1.1"/>
<text x="449.30" y="519.90" font-size="8.0" text-anchor="middle" fill="#222" stroke="#222" stroke-width="0.18">4</text>
<line x1="449.30" y1="524.00" x2="449.30" y2="527.30" stroke="#111" stroke-width="1.1"/>
<text x="462.30" y="519.90" font-size="8.0" text-anchor="middle" fill="#222" stroke="#222" stroke-width="0.18">5</text>
<line x1="462.30" y1="524.00" x2="462.30" y2="527.30" stroke="#111" stroke-width="1.1"/>
<line x1="394.20" y1="527.30" x2="465.40" y2="527.30" stroke="#111" stroke-width="1.3"/>
<text x="390.40" y="534.10" font-size="7.7" text-anchor="end" fill="#e8982c" textLength="56.89" lengthAdjust="spacingAndGlyphs" stroke="#e8982c" stroke-width="0.12">LT-HSC/OP BM+b</text>
<text x="390.40" y="544.10" font-size="7.7" text-anchor="end" fill="#e8982c" textLength="58.19" lengthAdjust="spacingAndGlyphs" stroke="#e8982c" stroke-width="0.12">ST-HSC/OP BM+b</text>
<text x="390.40" y="553.80" font-size="7.7" text-anchor="end" fill="#e8982c" textLength="47.66" lengthAdjust="spacingAndGlyphs" stroke="#e8982c" stroke-width="0.12">MPP/OP BM+b</text>
<text x="390.40" y="563.90" font-size="7.7" text-anchor="end" fill="#4d7b5f" textLength="63.27" lengthAdjust="spacingAndGlyphs" stroke="#4d7b5f" stroke-width="0.12">LT-HSC/Endo BM+b</text>
<text x="390.40" y="573.70" font-size="7.7" text-anchor="end" fill="#4d7b5f" textLength="64.57" lengthAdjust="spacingAndGlyphs" stroke="#4d7b5f" stroke-width="0.12">ST-HSC/Endo BM+b</text>
<text x="390.40" y="583.40" font-size="7.7" text-anchor="end" fill="#4d7b5f" textLength="54.04" lengthAdjust="spacingAndGlyphs" stroke="#4d7b5f" stroke-width="0.12">MPP/Endo BM+b</text>
<text x="390.40" y="593.30" font-size="7.7" text-anchor="end" fill="#6c3a80" textLength="62.48" lengthAdjust="spacingAndGlyphs" stroke="#6c3a80" stroke-width="0.12">LT-HSC/MSC BM+b</text>
<text x="390.40" y="603.20" font-size="7.7" text-anchor="end" fill="#3e5a94" textLength="54.47" lengthAdjust="spacingAndGlyphs" stroke="#3e5a94" stroke-width="0.12">LT-HSC/MSC BM</text>
<text x="390.40" y="613.00" font-size="7.7" text-anchor="end" fill="#3e5a94" textLength="55.77" lengthAdjust="spacingAndGlyphs" stroke="#3e5a94" stroke-width="0.12">ST-HSC/MSC BM</text>
<text x="390.40" y="622.90" font-size="7.7" text-anchor="end" fill="#3e5a94" textLength="45.24" lengthAdjust="spacingAndGlyphs" stroke="#3e5a94" stroke-width="0.12">MPP/MSC BM</text>
<text x="390.40" y="632.80" font-size="7.7" text-anchor="end" fill="#6c3a80" textLength="63.78" lengthAdjust="spacingAndGlyphs" stroke="#6c3a80" stroke-width="0.12">ST-HSC/MSC BM+b</text>
<text x="390.40" y="642.60" font-size="7.7" text-anchor="end" fill="#6c3a80" textLength="53.25" lengthAdjust="spacingAndGlyphs" stroke="#6c3a80" stroke-width="0.12">MPP/MSC BM+b</text>
<text x="390.40" y="652.20" font-size="7.7" text-anchor="end" fill="#ebbe2e" textLength="45.52" lengthAdjust="spacingAndGlyphs" stroke="#ebbe2e" stroke-width="0.12">LT-HSC/PaS b</text>
<text x="390.40" y="661.90" font-size="7.7" text-anchor="end" fill="#ebbe2e" textLength="46.82" lengthAdjust="spacingAndGlyphs" stroke="#ebbe2e" stroke-width="0.12">ST-HSC/PaS b</text>
<text x="390.40" y="671.90" font-size="7.7" text-anchor="end" fill="#ebbe2e" textLength="36.29" lengthAdjust="spacingAndGlyphs" stroke="#ebbe2e" stroke-width="0.12">MPP/PaS b</text>
<text x="390.40" y="681.80" font-size="7.7" text-anchor="end" fill="#b0203f" textLength="42.26" lengthAdjust="spacingAndGlyphs" stroke="#b0203f" stroke-width="0.12">LT-HSC/OP b</text>
<text x="390.40" y="691.70" font-size="7.7" text-anchor="end" fill="#7fb2e2" textLength="47.85" lengthAdjust="spacingAndGlyphs" stroke="#7fb2e2" stroke-width="0.12">LT-HSC/MSC b</text>
<text x="390.40" y="701.60" font-size="7.7" text-anchor="end" fill="#7fb2e2" textLength="49.15" lengthAdjust="spacingAndGlyphs" stroke="#7fb2e2" stroke-width="0.12">ST-HSC/MSC b</text>
<text x="390.40" y="711.40" font-size="7.7" text-anchor="end" fill="#7fb2e2" textLength="38.62" lengthAdjust="spacingAndGlyphs" stroke="#7fb2e2" stroke-width="0.12">MPP/MSC b</text>
<text x="390.40" y="719.60" font-size="7.7" text-anchor="end" fill="#b0203f" textLength="43.56" lengthAdjust="spacingAndGlyphs" stroke="#b0203f" stroke-width="0.12">ST-HSC/OP b</text>
<text x="390.40" y="730.00" font-size="7.7" text-anchor="end" fill="#b0203f" textLength="33.03" lengthAdjust="spacingAndGlyphs" stroke="#b0203f" stroke-width="0.12">MPP/OP b</text>
<line x1="397.40" y1="542.60" x2="417.70" y2="542.60" stroke="#e8982c" stroke-width="1.35" stroke-linecap="square"/>
<line x1="397.40" y1="552.30" x2="417.70" y2="552.30" stroke="#e8982c" stroke-width="1.35" stroke-linecap="square"/>
<line x1="417.70" y1="542.60" x2="417.70" y2="547.45" stroke="#e8982c" stroke-width="1.35" stroke-linecap="square"/>
<line x1="417.70" y1="547.45" x2="417.70" y2="552.30" stroke="#e8982c" stroke-width="1.35" stroke-linecap="square"/>
<line x1="397.40" y1="532.60" x2="428.90" y2="532.60" stroke="#e8982c" stroke-width="1.35" stroke-linecap="square"/>
<line x1="428.90" y1="532.60" x2="428.90" y2="540.03" stroke="#e8982c" stroke-width="1.35" stroke-linecap="square"/>
<line x1="428.90" y1="540.03" x2="428.90" y2="547.45" stroke="#222" stroke-width="1.35" stroke-linecap="square"/>
<line x1="417.70" y1="547.45" x2="428.90" y2="547.45" stroke="#222" stroke-width="1.35" stroke-linecap="square"/>
<line x1="397.40" y1="572.20" x2="417.80" y2="572.20" stroke="#4d7b5f" stroke-width="1.35" stroke-linecap="square"/>
<line x1="397.40" y1="581.90" x2="417.80" y2="581.90" stroke="#4d7b5f" stroke-width="1.35" stroke-linecap="square"/>
<line x1="417.80" y1="572.20" x2="417.80" y2="577.05" stroke="#4d7b5f" stroke-width="1.35" stroke-linecap="square"/>
<line x1="417.80" y1="577.05" x2="417.80" y2="581.90" stroke="#4d7b5f" stroke-width="1.35" stroke-linecap="square"/>
<line x1="397.40" y1="562.40" x2="429.20" y2="562.40" stroke="#4d7b5f" stroke-width="1.35" stroke-linecap="square"/>
<line x1="429.20" y1="562.40" x2="429.20" y2="569.72" stroke="#4d7b5f" stroke-width="1.35" stroke-linecap="square"/>
<line x1="429.20" y1="569.72" x2="429.20" y2="577.05" stroke="#222" stroke-width="1.35" stroke-linecap="square"/>
<line x1="417.80" y1="577.05" x2="429.20" y2="577.05" stroke="#222" stroke-width="1.35" stroke-linecap="square"/>
<line x1="428.90" y1="540.03" x2="457.20" y2="540.03" stroke="#222" stroke-width="1.35" stroke-linecap="square"/>
<line x1="429.20" y1="569.72" x2="457.20" y2="569.72" stroke="#222" stroke-width="1.35" stroke-linecap="square"/>
<line x1="457.20" y1="540.03" x2="457.20" y2="569.72" stroke="#222" stroke-width="1.35" stroke-linecap="square"/>
<line x1="397.40" y1="591.80" x2="422.90" y2="591.80" stroke="#6c3a80" stroke-width="1.35" stroke-linecap="square"/>
<line x1="397.40" y1="601.70" x2="422.90" y2="601.70" stroke="#3e5a94" stroke-width="1.35" stroke-linecap="square"/>
<line x1="422.90" y1="591.80" x2="422.90" y2="596.75" stroke="#6c3a80" stroke-width="1.35" stroke-linecap="square"/>
<line x1="422.90" y1="596.75" x2="422.90" y2="601.70" stroke="#3e5a94" stroke-width="1.35" stroke-linecap="square"/>
<line x1="397.40" y1="611.50" x2="417.70" y2="611.50" stroke="#3e5a94" stroke-width="1.35" stroke-linecap="square"/>
<line x1="397.40" y1="621.40" x2="417.70" y2="621.40" stroke="#3e5a94" stroke-width="1.35" stroke-linecap="square"/>
<line x1="417.70" y1="611.50" x2="417.70" y2="616.45" stroke="#3e5a94" stroke-width="1.35" stroke-linecap="square"/>
<line x1="417.70" y1="616.45" x2="417.70" y2="621.40" stroke="#3e5a94" stroke-width="1.35" stroke-linecap="square"/>
<line x1="397.40" y1="631.30" x2="417.70" y2="631.30" stroke="#6c3a80" stroke-width="1.35" stroke-linecap="square"/>
<line x1="397.40" y1="641.10" x2="417.70" y2="641.10" stroke="#6c3a80" stroke-width="1.35" stroke-linecap="square"/>
<line x1="417.70" y1="631.30" x2="417.70" y2="636.20" stroke="#6c3a80" stroke-width="1.35" stroke-linecap="square"/>
<line x1="417.70" y1="636.20" x2="417.70" y2="641.10" stroke="#6c3a80" stroke-width="1.35" stroke-linecap="square"/>
<line x1="417.70" y1="616.45" x2="431.00" y2="616.45" stroke="#222" stroke-width="1.35" stroke-linecap="square"/>
<line x1="417.70" y1="636.20" x2="431.00" y2="636.20" stroke="#222" stroke-width="1.35" stroke-linecap="square"/>
<line x1="431.00" y1="616.45" x2="431.00" y2="636.20" stroke="#222" stroke-width="1.35" stroke-linecap="square"/>
<line x1="422.90" y1="596.75" x2="439.30" y2="596.75" stroke="#222" stroke-width="1.35" stroke-linecap="square"/>
<line x1="431.00" y1="626.33" x2="439.30" y2="626.33" stroke="#222" stroke-width="1.35" stroke-linecap="square"/>
<line x1="439.30" y1="596.75" x2="439.30" y2="626.33" stroke="#222" stroke-width="1.35" stroke-linecap="square"/>
<line x1="397.40" y1="660.40" x2="417.70" y2="660.40" stroke="#ebbe2e" stroke-width="1.35" stroke-linecap="square"/>
<line x1="397.40" y1="670.40" x2="417.70" y2="670.40" stroke="#ebbe2e" stroke-width="1.35" stroke-linecap="square"/>
<line x1="417.70" y1="660.40" x2="417.70" y2="665.40" stroke="#ebbe2e" stroke-width="1.35" stroke-linecap="square"/>
<line x1="417.70" y1="665.40" x2="417.70" y2="670.40" stroke="#ebbe2e" stroke-width="1.35" stroke-linecap="square"/>
<line x1="397.40" y1="650.70" x2="428.40" y2="650.70" stroke="#ebbe2e" stroke-width="1.35" stroke-linecap="square"/>
<line x1="428.40" y1="650.70" x2="428.40" y2="658.05" stroke="#ebbe2e" stroke-width="1.35" stroke-linecap="square"/>
<line x1="428.40" y1="658.05" x2="428.40" y2="665.40" stroke="#222" stroke-width="1.35" stroke-linecap="square"/>
<line x1="417.70" y1="665.40" x2="428.40" y2="665.40" stroke="#222" stroke-width="1.35" stroke-linecap="square"/>
<line x1="397.40" y1="680.30" x2="422.40" y2="680.30" stroke="#b0203f" stroke-width="1.35" stroke-linecap="square"/>
<line x1="397.40" y1="690.20" x2="422.40" y2="690.20" stroke="#7fb2e2" stroke-width="1.35" stroke-linecap="square"/>
<line x1="422.40" y1="680.30" x2="422.40" y2="685.25" stroke="#b0203f" stroke-width="1.35" stroke-linecap="square"/>
<line x1="422.40" y1="685.25" x2="422.40" y2="690.20" stroke="#7fb2e2" stroke-width="1.35" stroke-linecap="square"/>
<line x1="397.40" y1="700.10" x2="417.20" y2="700.10" stroke="#7fb2e2" stroke-width="1.35" stroke-linecap="square"/>
<line x1="397.40" y1="709.90" x2="417.20" y2="709.90" stroke="#7fb2e2" stroke-width="1.35" stroke-linecap="square"/>
<line x1="417.20" y1="700.10" x2="417.20" y2="705.00" stroke="#7fb2e2" stroke-width="1.35" stroke-linecap="square"/>
<line x1="417.20" y1="705.00" x2="417.20" y2="709.90" stroke="#7fb2e2" stroke-width="1.35" stroke-linecap="square"/>
<line x1="397.40" y1="718.10" x2="417.20" y2="718.10" stroke="#b0203f" stroke-width="1.35" stroke-linecap="square"/>
<line x1="397.40" y1="728.50" x2="417.20" y2="728.50" stroke="#b0203f" stroke-width="1.35" stroke-linecap="square"/>
<line x1="417.20" y1="718.10" x2="417.20" y2="723.30" stroke="#b0203f" stroke-width="1.35" stroke-linecap="square"/>
<line x1="417.20" y1="723.30" x2="417.20" y2="728.50" stroke="#b0203f" stroke-width="1.35" stroke-linecap="square"/>
<line x1="417.20" y1="705.00" x2="429.80" y2="705.00" stroke="#222" stroke-width="1.35" stroke-linecap="square"/>
<line x1="417.20" y1="723.30" x2="429.80" y2="723.30" stroke="#222" stroke-width="1.35" stroke-linecap="square"/>
<line x1="429.80" y1="705.00" x2="429.80" y2="723.30" stroke="#222" stroke-width="1.35" stroke-linecap="square"/>
<line x1="422.40" y1="685.25" x2="438.10" y2="685.25" stroke="#222" stroke-width="1.35" stroke-linecap="square"/>
<line x1="429.80" y1="714.15" x2="438.10" y2="714.15" stroke="#222" stroke-width="1.35" stroke-linecap="square"/>
<line x1="438.10" y1="685.25" x2="438.10" y2="714.15" stroke="#222" stroke-width="1.35" stroke-linecap="square"/>
<line x1="428.40" y1="658.05" x2="443.30" y2="658.05" stroke="#222" stroke-width="1.35" stroke-linecap="square"/>
<line x1="438.10" y1="699.70" x2="443.30" y2="699.70" stroke="#222" stroke-width="1.35" stroke-linecap="square"/>
<line x1="443.30" y1="658.05" x2="443.30" y2="699.70" stroke="#222" stroke-width="1.35" stroke-linecap="square"/>
<line x1="439.30" y1="611.54" x2="458.90" y2="611.54" stroke="#222" stroke-width="1.35" stroke-linecap="square"/>
<line x1="443.30" y1="678.88" x2="458.90" y2="678.88" stroke="#222" stroke-width="1.35" stroke-linecap="square"/>
<line x1="458.90" y1="611.54" x2="458.90" y2="678.88" stroke="#222" stroke-width="1.35" stroke-linecap="square"/>
<line x1="457.20" y1="554.88" x2="470.00" y2="554.88" stroke="#222" stroke-width="1.35" stroke-linecap="square"/>
<line x1="458.90" y1="645.21" x2="470.00" y2="645.21" stroke="#222" stroke-width="1.35" stroke-linecap="square"/>
<line x1="470.00" y1="554.88" x2="470.00" y2="645.21" stroke="#222" stroke-width="1.35" stroke-linecap="square"/>
<rect x="0.60" y="0.60" width="518.80" height="737.80" fill="none" stroke="#000" stroke-width="1.4"/>
</svg>
</body></html>
